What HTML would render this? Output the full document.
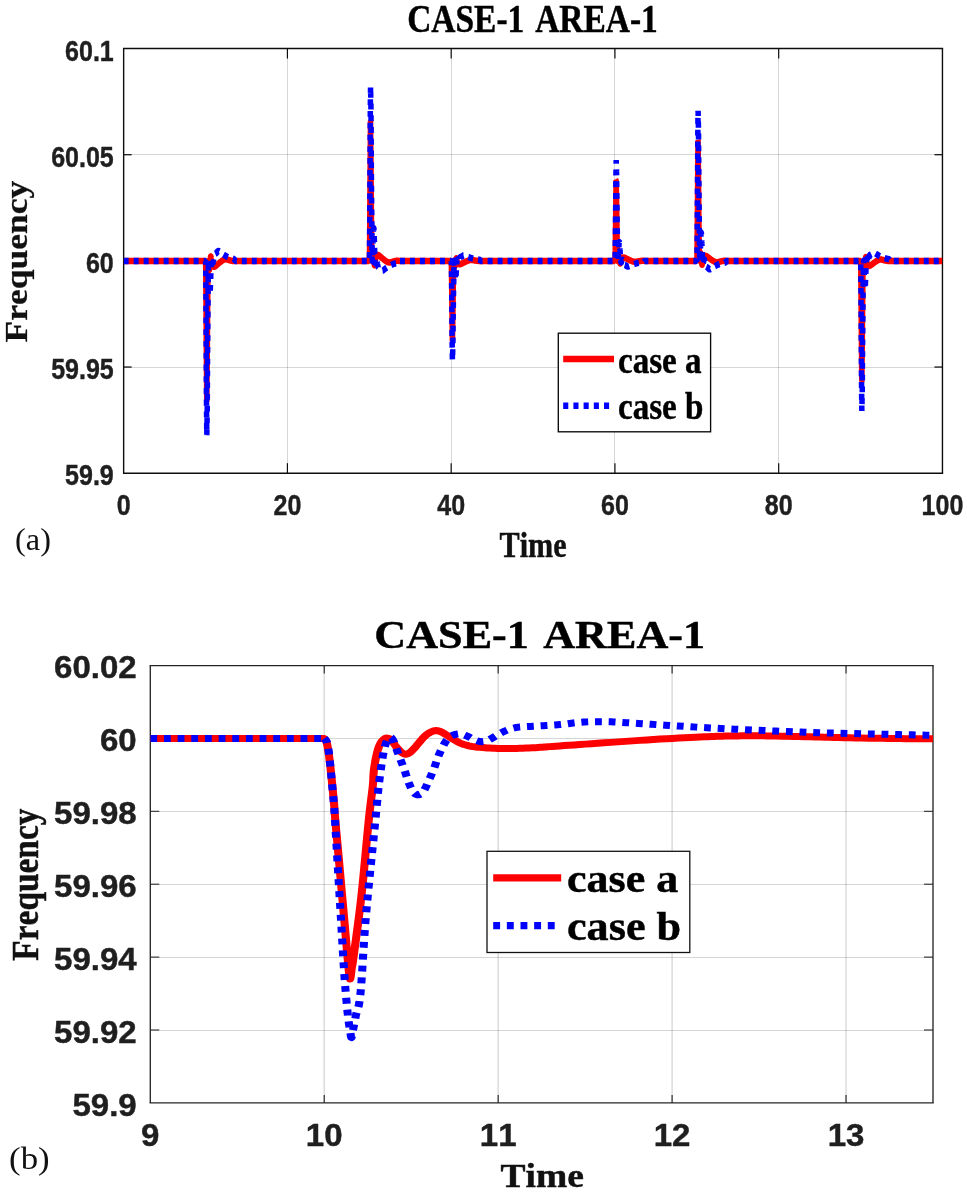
<!DOCTYPE html>
<html lang="en"><head><meta charset="utf-8"><title>CASE-1 AREA-1 frequency response</title>
<style>html,body{margin:0;padding:0;background:#fff}svg{display:block}text{font-kerning:none}</style></head>
<body><svg width="967" height="1194" viewBox="0 0 967 1194">
<rect width="967" height="1194" fill="#fff"/>
<line x1="287.50" y1="48.55" x2="287.50" y2="473.20" stroke="#262626" stroke-opacity="0.19" stroke-width="1"/>
<line x1="451.50" y1="48.55" x2="451.50" y2="473.20" stroke="#262626" stroke-opacity="0.19" stroke-width="1"/>
<line x1="614.50" y1="48.55" x2="614.50" y2="473.20" stroke="#262626" stroke-opacity="0.19" stroke-width="1"/>
<line x1="778.50" y1="48.55" x2="778.50" y2="473.20" stroke="#262626" stroke-opacity="0.19" stroke-width="1"/>
<line x1="123.65" y1="367.50" x2="942.45" y2="367.50" stroke="#262626" stroke-opacity="0.19" stroke-width="1"/>
<line x1="123.65" y1="260.50" x2="942.45" y2="260.50" stroke="#262626" stroke-opacity="0.19" stroke-width="1"/>
<line x1="123.65" y1="154.50" x2="942.45" y2="154.50" stroke="#262626" stroke-opacity="0.19" stroke-width="1"/>
<clipPath id="c1"><rect x="123.65" y="48.55" width="818.8000000000001" height="424.65"/></clipPath>
<line x1="287.41" y1="473.20" x2="287.41" y2="463.20" stroke="#0d0d0d" stroke-width="1.19"/>
<line x1="287.41" y1="48.55" x2="287.41" y2="58.55" stroke="#0d0d0d" stroke-width="1.19"/>
<line x1="451.17" y1="473.20" x2="451.17" y2="463.20" stroke="#0d0d0d" stroke-width="1.19"/>
<line x1="451.17" y1="48.55" x2="451.17" y2="58.55" stroke="#0d0d0d" stroke-width="1.19"/>
<line x1="614.93" y1="473.20" x2="614.93" y2="463.20" stroke="#0d0d0d" stroke-width="1.19"/>
<line x1="614.93" y1="48.55" x2="614.93" y2="58.55" stroke="#0d0d0d" stroke-width="1.19"/>
<line x1="778.69" y1="473.20" x2="778.69" y2="463.20" stroke="#0d0d0d" stroke-width="1.19"/>
<line x1="778.69" y1="48.55" x2="778.69" y2="58.55" stroke="#0d0d0d" stroke-width="1.19"/>
<line x1="123.65" y1="367.04" x2="131.65" y2="367.04" stroke="#0d0d0d" stroke-width="1.2325"/>
<line x1="942.45" y1="367.04" x2="934.45" y2="367.04" stroke="#0d0d0d" stroke-width="1.2325"/>
<line x1="123.65" y1="260.88" x2="131.65" y2="260.88" stroke="#0d0d0d" stroke-width="1.2325"/>
<line x1="942.45" y1="260.88" x2="934.45" y2="260.88" stroke="#0d0d0d" stroke-width="1.2325"/>
<line x1="123.65" y1="154.71" x2="131.65" y2="154.71" stroke="#0d0d0d" stroke-width="1.2325"/>
<line x1="942.45" y1="154.71" x2="934.45" y2="154.71" stroke="#0d0d0d" stroke-width="1.2325"/>
<line x1="122.95" y1="48.55" x2="943.15" y2="48.55" stroke="#0d0d0d" stroke-width="1.45"/>
<line x1="122.95" y1="473.20" x2="943.15" y2="473.20" stroke="#0d0d0d" stroke-width="1.45"/>
<line x1="123.65" y1="48.55" x2="123.65" y2="473.20" stroke="#0d0d0d" stroke-width="1.4"/>
<line x1="942.45" y1="48.55" x2="942.45" y2="473.20" stroke="#0d0d0d" stroke-width="1.4"/>
<g clip-path="url(#c1)">
<g transform="scale(0.85 1)" fill="none" stroke-linejoin="bevel">
<path d="M145.47 260.88 L146.43 260.88 L147.40 260.88 L148.36 260.88 L149.32 260.88 L150.29 260.88 L151.25 260.88 L152.21 260.88 L153.18 260.88 L154.14 260.88 L155.10 260.88 L156.07 260.88 L157.03 260.88 L157.99 260.88 L158.96 260.88 L159.92 260.88 L160.88 260.88 L161.85 260.88 L162.81 260.88 L163.77 260.88 L164.74 260.88 L165.70 260.88 L166.66 260.88 L167.63 260.88 L168.59 260.88 L169.55 260.88 L170.52 260.88 L171.48 260.88 L172.44 260.88 L173.41 260.88 L174.37 260.88 L175.33 260.88 L176.30 260.88 L177.26 260.88 L178.22 260.88 L179.19 260.88 L180.15 260.88 L181.11 260.88 L182.08 260.88 L183.04 260.88 L184.00 260.88 L184.97 260.88 L185.93 260.88 L186.89 260.88 L187.86 260.88 L188.82 260.88 L189.78 260.88 L190.75 260.88 L191.71 260.88 L192.67 260.88 L193.64 260.88 L194.60 260.88 L195.56 260.88 L196.53 260.88 L197.49 260.88 L198.45 260.88 L199.42 260.88 L200.38 260.88 L201.34 260.88 L202.30 260.88 L203.27 260.88 L204.23 260.88 L205.19 260.88 L206.16 260.88 L207.12 260.88 L208.08 260.88 L209.05 260.88 L210.01 260.88 L210.97 260.88 L211.94 260.88 L212.90 260.88 L213.86 260.88 L214.83 260.88 L215.79 260.88 L216.75 260.88 L217.72 260.88 L218.68 260.88 L219.64 260.88 L220.61 260.88 L221.57 260.88 L222.53 260.88 L223.50 260.88 L224.46 260.88 L225.42 260.88 L226.39 260.88 L227.35 260.88 L228.31 260.88 L229.28 260.88 L230.24 260.88 L231.20 260.88 L232.17 260.88 L233.13 260.88 L234.09 260.88 L235.06 260.88 L236.02 260.88 L236.98 260.88 L237.95 260.88 L238.91 260.88 L239.87 260.88 L240.84 260.88 L241.80 260.90 L241.81 261.01 L241.82 261.15 L241.84 261.32 L241.85 261.53 L241.87 261.78 L241.89 262.09 L241.91 262.46 L241.93 262.91 L241.94 263.43 L241.95 264.00 L241.97 264.62 L241.98 265.31 L241.99 266.06 L242.01 266.88 L242.02 267.77 L242.04 268.74 L242.05 269.75 L242.06 270.79 L242.08 271.88 L242.09 273.05 L242.11 274.32 L242.12 275.73 L242.14 277.30 L242.16 279.05 L242.18 281.10 L242.20 283.48 L242.23 286.08 L242.25 288.77 L242.28 291.47 L242.30 294.05 L242.32 296.41 L242.34 298.45 L242.35 300.00 L242.36 301.11 L242.37 301.96 L242.37 302.72 L242.38 303.56 L242.38 304.66 L242.40 306.20 L242.41 308.35 L242.44 311.14 L242.46 314.43 L242.50 318.11 L242.53 322.07 L242.57 326.21 L242.60 330.43 L242.64 334.60 L242.67 338.64 L242.71 342.69 L242.74 346.93 L242.76 349.22 L242.78 351.27 L242.82 355.61 L242.85 359.86 L242.89 363.95 L242.92 367.78 L242.95 371.26 L242.98 374.42 L243.00 377.35 L243.02 380.06 L243.04 382.58 L243.06 384.93 L243.08 387.11 L243.10 389.15 L243.12 391.07 L243.13 392.89 L243.15 394.62 L243.16 396.22 L243.17 397.66 L243.18 398.88 L243.20 399.87 L243.21 400.58 L243.22 400.97 L243.23 400.96 L243.25 400.54 L243.26 399.81 L243.27 398.86 L243.29 397.77 L243.30 396.63 L243.31 395.53 L243.33 394.56 L243.34 393.85 L243.35 393.36 L243.35 392.96 L243.36 392.49 L243.37 391.80 L243.39 390.75 L243.41 389.20 L243.44 386.99 L243.47 384.10 L243.52 380.64 L243.57 376.73 L243.63 372.43 L243.68 367.84 L243.73 364.30 L243.74 363.04 L243.80 358.13 L243.85 353.20 L243.91 347.95 L243.96 342.18 L244.02 336.09 L244.07 329.90 L244.13 323.82 L244.18 318.06 L244.23 312.83 L244.27 308.35 L244.31 304.60 L244.34 301.39 L244.37 298.63 L244.40 296.23 L244.43 294.10 L244.45 292.17 L244.47 290.35 L244.49 288.54 L244.50 286.88 L244.51 285.49 L244.52 284.31 L244.52 283.27 L244.53 282.30 L244.53 281.35 L244.54 280.35 L244.55 279.22 L244.57 277.99 L244.59 276.69 L244.61 275.37 L244.63 274.04 L244.65 272.75 L244.68 271.51 L244.69 270.81 L244.70 270.36 L244.72 269.32 L244.75 268.39 L244.77 267.54 L244.79 266.76 L244.82 266.04 L244.84 265.38 L244.87 264.77 L244.89 264.20 L244.92 263.67 L244.94 263.18 L244.97 262.75 L245.00 262.37 L245.03 262.03 L245.06 261.73 L245.09 261.47 L245.11 261.25 L245.14 261.05 L245.16 260.89 L245.18 260.77 L245.20 260.69 L245.22 260.65 L245.24 260.63 L245.26 260.64 L245.28 260.66 L245.30 260.70 L245.33 260.75 L245.35 260.80 L245.38 260.87 L245.41 260.97 L245.44 261.09 L245.47 261.26 L245.50 261.48 L245.53 261.75 L245.56 262.10 L245.59 262.53 L245.62 263.02 L245.65 263.54 L245.65 263.60 L245.68 264.08 L245.71 264.61 L245.74 265.10 L245.77 265.54 L245.80 265.93 L245.83 266.30 L245.86 266.66 L245.89 267.00 L245.92 267.32 L245.95 267.62 L245.97 267.90 L246.00 268.16 L246.02 268.39 L246.04 268.60 L246.06 268.79 L246.08 268.96 L246.10 269.11 L246.12 269.25 L246.14 269.38 L246.16 269.50 L246.18 269.61 L246.20 269.72 L246.22 269.82 L246.24 269.90 L246.26 269.97 L246.28 270.01 L246.31 270.03 L246.33 270.02 L246.35 269.98 L246.38 269.92 L246.41 269.84 L246.43 269.74 L246.46 269.61 L246.49 269.45 L246.52 269.26 L246.55 269.03 L246.58 268.76 L246.62 268.45 L246.62 268.44 L246.65 268.10 L246.69 267.73 L246.72 267.34 L246.76 266.93 L246.79 266.52 L246.83 266.12 L246.86 265.71 L246.90 265.28 L246.93 264.84 L246.97 264.39 L247.00 263.94 L247.03 263.49 L247.07 263.05 L247.10 262.62 L247.14 262.20 L247.17 261.78 L247.21 261.36 L247.24 260.94 L247.27 260.53 L247.31 260.14 L247.34 259.77 L247.38 259.42 L247.42 259.09 L247.46 258.77 L247.49 258.46 L247.53 258.17 L247.57 257.90 L247.58 257.84 L247.61 257.65 L247.65 257.41 L247.69 257.21 L247.72 257.02 L247.76 256.84 L247.80 256.69 L247.83 256.56 L247.87 256.45 L247.91 256.36 L247.94 256.30 L247.98 256.27 L248.02 256.27 L248.05 256.31 L248.09 256.36 L248.12 256.45 L248.16 256.55 L248.19 256.68 L248.23 256.82 L248.27 256.97 L248.30 257.13 L248.33 257.30 L248.36 257.48 L248.40 257.68 L248.43 257.91 L248.47 258.17 L248.52 258.48 L248.54 258.65 L248.57 258.84 L248.64 259.27 L248.72 259.79 L248.80 260.37 L248.89 260.97 L248.99 261.57 L249.08 262.15 L249.16 262.66 L249.24 263.09 L249.30 263.43 L249.37 263.72 L249.43 263.96 L249.48 264.17 L249.51 264.25 L249.54 264.35 L249.59 264.51 L249.65 264.67 L249.71 264.84 L249.76 265.00 L249.82 265.14 L249.87 265.27 L249.92 265.39 L249.98 265.51 L250.04 265.61 L250.12 265.72 L250.21 265.83 L250.31 265.94 L250.43 266.05 L250.47 266.08 L250.56 266.16 L250.70 266.26 L250.84 266.36 L250.98 266.44 L251.12 266.52 L251.26 266.58 L251.39 266.63 L251.43 266.65 L251.51 266.67 L251.64 266.70 L251.76 266.73 L251.89 266.74 L252.02 266.74 L252.15 266.72 L252.30 266.70 L252.40 266.68 L252.45 266.66 L252.62 266.61 L252.80 266.54 L252.97 266.46 L253.15 266.38 L253.32 266.29 L253.36 266.27 L253.49 266.20 L253.64 266.12 L253.77 266.04 L253.88 265.96 L253.97 265.89 L254.07 265.81 L254.17 265.72 L254.29 265.62 L254.32 265.59 L254.44 265.50 L254.62 265.36 L254.84 265.20 L255.09 265.02 L255.29 264.87 L255.36 264.82 L255.65 264.61 L255.95 264.38 L256.25 264.17 L256.27 264.15 L256.60 263.91 L256.94 263.67 L257.21 263.47 L257.29 263.41 L257.67 263.14 L258.07 262.85 L258.18 262.77 L258.47 262.55 L258.88 262.26 L259.14 262.07 L259.28 261.97 L259.67 261.70 L260.04 261.46 L260.10 261.42 L260.39 261.23 L260.74 261.02 L261.07 260.83 L261.09 260.81 L261.43 260.62 L261.75 260.45 L262.03 260.30 L262.06 260.28 L262.35 260.13 L262.61 260.00 L262.84 259.89 L262.99 259.82 L263.05 259.80 L263.23 259.72 L263.39 259.66 L263.55 259.61 L263.70 259.56 L263.86 259.52 L263.96 259.49 L264.02 259.48 L264.20 259.44 L264.38 259.40 L264.55 259.38 L264.73 259.35 L264.91 259.34 L264.92 259.33 L265.07 259.32 L265.23 259.31 L265.38 259.30 L265.51 259.30 L265.61 259.29 L265.70 259.29 L265.78 259.29 L265.87 259.29 L265.88 259.30 L265.99 259.31 L266.13 259.33 L266.31 259.36 L266.54 259.40 L266.81 259.46 L266.85 259.46 L267.11 259.52 L267.43 259.59 L267.76 259.66 L267.81 259.68 L268.08 259.74 L268.40 259.81 L268.70 259.88 L268.77 259.90 L268.98 259.96 L269.25 260.03 L269.51 260.10 L269.74 260.17 L269.77 260.18 L270.04 260.25 L270.31 260.33 L270.59 260.40 L270.70 260.42 L270.90 260.47 L271.22 260.53 L271.57 260.60 L271.66 260.62 L271.94 260.67 L272.31 260.73 L272.63 260.78 L272.69 260.79 L273.04 260.84 L273.38 260.89 L273.59 260.92 L273.69 260.93 L273.97 260.97 L274.26 260.99 L274.52 261.01 L274.55 261.01 L274.78 261.02 L275.01 261.03 L275.21 261.04 L275.38 261.04 L275.52 261.05 L276.48 260.88 L277.44 260.88 L278.41 260.88 L279.37 260.88 L280.33 260.88 L281.30 260.88 L282.26 260.88 L283.22 260.88 L284.18 260.88 L285.15 260.88 L286.11 260.88 L287.07 260.88 L288.04 260.88 L289.00 260.88 L289.96 260.88 L290.93 260.88 L291.89 260.88 L292.85 260.88 L293.82 260.88 L294.78 260.88 L295.74 260.88 L296.71 260.88 L297.67 260.88 L298.63 260.88 L299.60 260.88 L300.56 260.88 L301.52 260.88 L302.49 260.88 L303.45 260.88 L304.41 260.88 L305.38 260.88 L306.34 260.88 L307.30 260.88 L308.27 260.88 L309.23 260.88 L310.19 260.88 L311.16 260.88 L312.12 260.88 L313.08 260.88 L314.05 260.88 L315.01 260.88 L315.97 260.88 L316.94 260.88 L317.90 260.88 L318.86 260.88 L319.83 260.88 L320.79 260.88 L321.75 260.88 L322.72 260.88 L323.68 260.88 L324.64 260.88 L325.61 260.88 L326.57 260.88 L327.53 260.88 L328.50 260.88 L329.46 260.88 L330.42 260.88 L331.39 260.88 L332.35 260.88 L333.31 260.88 L334.28 260.88 L335.24 260.88 L336.20 260.88 L337.17 260.88 L338.13 260.88 L339.09 260.88 L340.06 260.88 L341.02 260.88 L341.98 260.88 L342.95 260.88 L343.91 260.88 L344.87 260.88 L345.84 260.88 L346.80 260.88 L347.76 260.88 L348.73 260.88 L349.69 260.88 L350.65 260.88 L351.62 260.88 L352.58 260.88 L353.54 260.88 L354.51 260.88 L355.47 260.88 L356.43 260.88 L357.40 260.88 L358.36 260.88 L359.32 260.88 L360.29 260.88 L361.25 260.88 L362.21 260.88 L363.18 260.88 L364.14 260.88 L365.10 260.88 L366.06 260.88 L367.03 260.88 L367.99 260.88 L368.95 260.88 L369.92 260.88 L370.88 260.88 L371.84 260.88 L372.81 260.88 L373.77 260.88 L374.73 260.88 L375.70 260.88 L376.66 260.88 L377.62 260.88 L378.59 260.88 L379.55 260.88 L380.51 260.88 L381.48 260.88 L382.44 260.88 L383.40 260.88 L384.37 260.88 L385.33 260.88 L386.29 260.88 L387.26 260.88 L388.22 260.88 L389.18 260.88 L390.15 260.88 L391.11 260.88 L392.07 260.88 L393.04 260.88 L394.00 260.88 L394.96 260.88 L395.93 260.88 L396.89 260.88 L397.85 260.88 L398.82 260.88 L399.78 260.88 L400.74 260.88 L401.71 260.88 L402.67 260.88 L403.63 260.88 L404.60 260.88 L405.56 260.88 L406.52 260.88 L407.49 260.88 L408.45 260.88 L409.41 260.88 L410.38 260.88 L411.34 260.88 L412.30 260.88 L413.27 260.88 L414.23 260.88 L415.19 260.88 L416.16 260.88 L417.12 260.88 L418.08 260.88 L419.05 260.88 L420.01 260.88 L420.97 260.88 L421.94 260.88 L422.90 260.88 L423.86 260.88 L424.83 260.88 L425.79 260.88 L426.75 260.88 L427.72 260.88 L428.68 260.88 L429.64 260.88 L430.61 260.88 L431.57 260.88 L432.53 260.88 L433.50 260.88 L434.46 260.85 L434.47 260.74 L434.48 260.60 L434.50 260.43 L434.51 260.22 L434.53 259.97 L434.55 259.66 L434.57 259.29 L434.58 258.84 L434.60 258.32 L434.61 257.75 L434.63 257.13 L434.64 256.44 L434.65 255.69 L434.67 254.87 L434.68 253.98 L434.70 253.01 L434.71 252.00 L434.72 250.96 L434.74 249.87 L434.75 248.70 L434.77 247.43 L434.78 246.02 L434.80 244.45 L434.82 242.70 L434.84 240.65 L434.86 238.27 L434.89 235.67 L434.91 232.98 L434.94 230.28 L434.96 227.70 L434.98 225.34 L435.00 223.30 L435.01 221.75 L435.02 220.64 L435.03 219.79 L435.03 219.03 L435.04 218.19 L435.04 217.09 L435.05 215.55 L435.07 213.40 L435.10 210.61 L435.12 207.32 L435.15 203.64 L435.19 199.68 L435.22 195.54 L435.26 191.32 L435.30 187.15 L435.33 183.11 L435.37 179.06 L435.40 174.82 L435.42 172.53 L435.44 170.48 L435.48 166.14 L435.51 161.89 L435.55 157.80 L435.58 153.97 L435.61 150.49 L435.64 147.33 L435.66 144.40 L435.68 141.69 L435.70 139.17 L435.72 136.82 L435.74 134.64 L435.76 132.60 L435.78 130.68 L435.79 128.86 L435.81 127.13 L435.82 125.53 L435.83 124.09 L435.84 122.87 L435.86 121.88 L435.87 121.17 L435.88 120.78 L435.89 120.79 L435.91 121.21 L435.92 121.94 L435.93 122.89 L435.95 123.98 L435.96 125.12 L435.97 126.22 L435.99 127.19 L436.00 127.90 L436.01 128.39 L436.01 128.79 L436.02 129.26 L436.03 129.95 L436.05 131.00 L436.07 132.55 L436.10 134.76 L436.13 137.65 L436.18 141.11 L436.23 145.02 L436.28 149.32 L436.34 153.91 L436.39 157.45 L436.40 158.71 L436.46 163.62 L436.51 168.55 L436.56 173.80 L436.62 179.57 L436.68 185.66 L436.73 191.85 L436.79 197.93 L436.84 203.69 L436.88 208.92 L436.93 213.40 L436.97 217.15 L437.00 220.36 L437.03 223.12 L437.06 225.52 L437.09 227.65 L437.11 229.58 L437.13 231.40 L437.15 233.21 L437.16 234.87 L437.17 236.26 L437.18 237.44 L437.18 238.48 L437.19 239.45 L437.19 240.40 L437.20 241.40 L437.21 242.53 L437.23 243.76 L437.24 245.06 L437.26 246.38 L437.29 247.71 L437.31 249.00 L437.33 250.24 L437.35 250.94 L437.36 251.39 L437.38 252.43 L437.40 253.36 L437.43 254.21 L437.45 254.99 L437.48 255.71 L437.50 256.37 L437.52 256.98 L437.55 257.55 L437.58 258.08 L437.60 258.57 L437.63 259.00 L437.66 259.38 L437.69 259.72 L437.72 260.02 L437.74 260.28 L437.77 260.50 L437.80 260.70 L437.82 260.86 L437.84 260.98 L437.86 261.06 L437.88 261.10 L437.90 261.12 L437.92 261.11 L437.94 261.09 L437.96 261.05 L437.99 261.00 L438.01 260.95 L438.04 260.88 L438.07 260.78 L438.10 260.66 L438.13 260.49 L438.15 260.27 L438.18 260.00 L438.21 259.65 L438.25 259.22 L438.28 258.73 L438.31 258.21 L438.31 258.15 L438.34 257.67 L438.37 257.14 L438.40 256.65 L438.43 256.21 L438.46 255.82 L438.49 255.45 L438.52 255.09 L438.55 254.75 L438.58 254.43 L438.60 254.13 L438.63 253.85 L438.66 253.59 L438.68 253.36 L438.70 253.15 L438.72 252.96 L438.74 252.79 L438.76 252.64 L438.78 252.50 L438.80 252.37 L438.82 252.25 L438.84 252.14 L438.86 252.03 L438.88 251.93 L438.90 251.85 L438.92 251.78 L438.94 251.74 L438.96 251.72 L438.99 251.73 L439.01 251.77 L439.04 251.83 L439.06 251.91 L439.09 252.01 L439.12 252.14 L439.15 252.30 L439.18 252.49 L439.21 252.72 L439.24 252.99 L439.27 253.30 L439.28 253.31 L439.31 253.65 L439.34 254.02 L439.38 254.41 L439.42 254.82 L439.45 255.23 L439.49 255.63 L439.52 256.04 L439.55 256.47 L439.59 256.91 L439.62 257.36 L439.66 257.81 L439.69 258.26 L439.73 258.70 L439.76 259.13 L439.80 259.55 L439.83 259.97 L439.87 260.39 L439.90 260.81 L439.93 261.22 L439.97 261.61 L440.00 261.98 L440.04 262.33 L440.08 262.66 L440.11 262.98 L440.15 263.29 L440.19 263.58 L440.23 263.85 L440.24 263.91 L440.27 264.10 L440.31 264.34 L440.34 264.54 L440.38 264.73 L440.42 264.91 L440.46 265.06 L440.49 265.19 L440.53 265.30 L440.56 265.39 L440.60 265.45 L440.64 265.48 L440.67 265.48 L440.71 265.44 L440.75 265.39 L440.78 265.30 L440.82 265.20 L440.85 265.07 L440.89 264.93 L440.93 264.78 L440.96 264.62 L440.99 264.45 L441.02 264.27 L441.05 264.07 L441.09 263.84 L441.13 263.58 L441.17 263.27 L441.20 263.10 L441.23 262.91 L441.30 262.48 L441.38 261.96 L441.46 261.38 L441.55 260.78 L441.64 260.18 L441.73 259.60 L441.82 259.09 L441.89 258.66 L441.96 258.32 L442.03 258.03 L442.08 257.79 L442.14 257.58 L442.17 257.50 L442.20 257.40 L442.25 257.24 L442.31 257.08 L442.37 256.91 L442.42 256.75 L442.48 256.61 L442.53 256.48 L442.58 256.36 L442.64 256.24 L442.70 256.14 L442.78 256.03 L442.86 255.92 L442.97 255.81 L443.09 255.70 L443.13 255.67 L443.22 255.59 L443.36 255.49 L443.50 255.39 L443.64 255.31 L443.78 255.23 L443.92 255.17 L444.05 255.12 L444.09 255.10 L444.17 255.08 L444.29 255.05 L444.42 255.02 L444.55 255.01 L444.68 255.01 L444.81 255.03 L444.96 255.05 L445.06 255.07 L445.11 255.09 L445.28 255.14 L445.45 255.21 L445.63 255.29 L445.81 255.37 L445.98 255.46 L446.02 255.48 L446.15 255.55 L446.30 255.63 L446.43 255.71 L446.54 255.79 L446.63 255.86 L446.73 255.94 L446.83 256.03 L446.95 256.13 L446.98 256.16 L447.09 256.25 L447.28 256.39 L447.50 256.55 L447.75 256.73 L447.94 256.88 L448.02 256.93 L448.31 257.14 L448.61 257.37 L448.91 257.58 L448.93 257.60 L449.26 257.84 L449.60 258.08 L449.87 258.28 L449.95 258.34 L450.33 258.61 L450.73 258.90 L450.83 258.98 L451.13 259.20 L451.54 259.49 L451.80 259.68 L451.94 259.78 L452.33 260.05 L452.69 260.29 L452.76 260.33 L453.05 260.52 L453.40 260.73 L453.72 260.92 L453.75 260.94 L454.09 261.13 L454.41 261.30 L454.69 261.45 L454.72 261.47 L455.01 261.62 L455.27 261.75 L455.50 261.86 L455.65 261.93 L455.71 261.95 L455.89 262.03 L456.05 262.09 L456.21 262.14 L456.36 262.19 L456.52 262.23 L456.61 262.26 L456.68 262.27 L456.86 262.31 L457.04 262.35 L457.21 262.37 L457.39 262.40 L457.56 262.41 L457.58 262.42 L457.73 262.43 L457.89 262.44 L458.04 262.45 L458.17 262.45 L458.27 262.46 L458.35 262.46 L458.44 262.46 L458.53 262.46 L458.54 262.45 L458.64 262.44 L458.79 262.42 L458.97 262.39 L459.20 262.35 L459.47 262.29 L459.50 262.29 L459.77 262.23 L460.09 262.16 L460.42 262.09 L460.47 262.07 L460.74 262.01 L461.06 261.94 L461.36 261.87 L461.43 261.85 L461.64 261.79 L461.91 261.72 L462.17 261.65 L462.39 261.58 L462.43 261.57 L462.70 261.50 L462.97 261.42 L463.25 261.35 L463.36 261.33 L463.56 261.28 L463.88 261.22 L464.23 261.15 L464.32 261.13 L464.60 261.08 L464.97 261.02 L465.28 260.97 L465.34 260.96 L465.70 260.91 L466.04 260.86 L466.25 260.83 L466.35 260.82 L466.63 260.78 L466.91 260.76 L467.18 260.74 L467.21 260.74 L467.43 260.73 L467.66 260.72 L467.87 260.71 L468.04 260.71 L468.17 260.70 L469.14 260.88 L470.10 260.88 L471.06 260.88 L472.03 260.88 L472.99 260.88 L473.95 260.88 L474.92 260.88 L475.88 260.88 L476.84 260.88 L477.81 260.88 L478.77 260.88 L479.73 260.88 L480.70 260.88 L481.66 260.88 L482.62 260.88 L483.59 260.88 L484.55 260.88 L485.51 260.88 L486.48 260.88 L487.44 260.88 L488.40 260.88 L489.37 260.88 L490.33 260.88 L491.29 260.88 L492.26 260.88 L493.22 260.88 L494.18 260.88 L495.15 260.88 L496.11 260.88 L497.07 260.88 L498.04 260.88 L499.00 260.88 L499.96 260.88 L500.93 260.88 L501.89 260.88 L502.85 260.88 L503.82 260.88 L504.78 260.88 L505.74 260.88 L506.71 260.88 L507.67 260.88 L508.63 260.88 L509.60 260.88 L510.56 260.88 L511.52 260.88 L512.49 260.88 L513.45 260.88 L514.41 260.88 L515.38 260.88 L516.34 260.88 L517.30 260.88 L518.27 260.88 L519.23 260.88 L520.19 260.88 L521.16 260.88 L522.12 260.88 L523.08 260.88 L524.05 260.88 L525.01 260.88 L525.97 260.88 L526.94 260.88 L527.90 260.88 L528.86 260.88 L529.82 260.88 L530.79 260.89 L530.80 260.95 L530.81 261.03 L530.83 261.13 L530.84 261.25 L530.86 261.39 L530.88 261.57 L530.90 261.78 L530.91 262.04 L530.93 262.33 L530.94 262.66 L530.96 263.01 L530.97 263.40 L530.98 263.83 L531.00 264.30 L531.01 264.81 L531.02 265.36 L531.04 265.93 L531.05 266.53 L531.07 267.15 L531.08 267.81 L531.10 268.54 L531.11 269.34 L531.13 270.23 L531.15 271.23 L531.17 272.41 L531.19 273.76 L531.22 275.24 L531.24 276.78 L531.27 278.31 L531.29 279.79 L531.31 281.13 L531.33 282.29 L531.34 283.18 L531.35 283.81 L531.36 284.29 L531.36 284.73 L531.37 285.21 L531.37 285.83 L531.38 286.71 L531.40 287.94 L531.42 289.53 L531.45 291.40 L531.48 293.50 L531.52 295.76 L531.55 298.12 L531.59 300.52 L531.63 302.90 L531.66 305.20 L531.70 307.51 L531.73 309.93 L531.75 311.23 L531.77 312.40 L531.81 314.87 L531.84 317.30 L531.88 319.63 L531.91 321.81 L531.94 323.79 L531.96 325.59 L531.99 327.26 L532.01 328.81 L532.03 330.25 L532.05 331.58 L532.07 332.83 L532.09 333.99 L532.10 335.08 L532.12 336.12 L532.14 337.11 L532.15 338.02 L532.16 338.84 L532.17 339.54 L532.18 340.10 L532.20 340.51 L532.21 340.73 L532.22 340.72 L532.24 340.48 L532.25 340.07 L532.26 339.52 L532.28 338.90 L532.29 338.25 L532.30 337.63 L532.31 337.08 L532.33 336.67 L532.34 336.39 L532.34 336.16 L532.35 335.89 L532.36 335.50 L532.38 334.90 L532.40 334.02 L532.43 332.76 L532.46 331.11 L532.51 329.14 L532.56 326.91 L532.61 324.46 L532.67 321.84 L532.71 319.83 L532.73 319.11 L532.79 316.31 L532.84 313.50 L532.89 310.51 L532.95 307.22 L533.01 303.75 L533.06 300.22 L533.11 296.75 L533.17 293.47 L533.21 290.49 L533.26 287.94 L533.29 285.80 L533.33 283.97 L533.36 282.39 L533.39 281.03 L533.42 279.81 L533.44 278.71 L533.46 277.67 L533.48 276.65 L533.49 275.70 L533.50 274.91 L533.51 274.23 L533.51 273.64 L533.52 273.09 L533.52 272.55 L533.53 271.97 L533.54 271.33 L533.55 270.63 L533.57 269.89 L533.59 269.14 L533.62 268.38 L533.64 267.64 L533.66 266.94 L533.68 266.54 L533.69 266.28 L533.71 265.69 L533.73 265.16 L533.76 264.67 L533.78 264.23 L533.80 263.82 L533.83 263.44 L533.85 263.10 L533.88 262.77 L533.90 262.47 L533.93 262.19 L533.96 261.94 L533.99 261.73 L534.02 261.53 L534.05 261.36 L534.07 261.22 L534.10 261.09 L534.13 260.97 L534.15 260.88 L534.17 260.82 L534.19 260.77 L534.21 260.74 L534.23 260.73 L534.25 260.74 L534.27 260.75 L534.29 260.78 L534.32 260.80 L534.34 260.83 L534.37 260.87 L534.40 260.93 L534.43 261.00 L534.46 261.10 L534.48 261.22 L534.51 261.37 L534.54 261.57 L534.57 261.82 L534.61 262.10 L534.64 262.40 L534.64 262.43 L534.67 262.70 L534.70 263.00 L534.73 263.28 L534.76 263.53 L534.79 263.75 L534.82 263.97 L534.85 264.17 L534.88 264.37 L534.91 264.55 L534.93 264.72 L534.96 264.88 L534.98 265.03 L535.01 265.16 L535.03 265.28 L535.05 265.39 L535.07 265.48 L535.09 265.57 L535.11 265.65 L535.13 265.72 L535.15 265.79 L535.17 265.85 L535.19 265.92 L535.21 265.97 L535.23 266.02 L535.25 266.06 L535.27 266.08 L535.29 266.10 L535.32 266.09 L535.34 266.07 L535.37 266.03 L535.39 265.99 L535.42 265.93 L535.45 265.85 L535.48 265.76 L535.51 265.65 L535.54 265.52 L535.57 265.37 L535.60 265.19 L535.60 265.19 L535.64 265.00 L535.67 264.78 L535.71 264.56 L535.74 264.33 L535.78 264.09 L535.82 263.86 L535.85 263.63 L535.88 263.38 L535.92 263.13 L535.95 262.88 L535.99 262.62 L536.02 262.37 L536.06 262.11 L536.09 261.87 L536.13 261.63 L536.16 261.39 L536.19 261.15 L536.23 260.91 L536.26 260.68 L536.30 260.46 L536.33 260.25 L536.37 260.04 L536.41 259.86 L536.44 259.67 L536.48 259.50 L536.52 259.33 L536.56 259.18 L536.57 259.14 L536.60 259.03 L536.64 258.90 L536.67 258.78 L536.71 258.68 L536.75 258.58 L536.78 258.49 L536.82 258.41 L536.86 258.35 L536.89 258.30 L536.93 258.27 L536.97 258.25 L537.00 258.25 L537.04 258.27 L537.07 258.30 L537.11 258.35 L537.15 258.41 L537.18 258.48 L537.22 258.56 L537.26 258.65 L537.29 258.74 L537.32 258.84 L537.35 258.94 L537.38 259.06 L537.42 259.19 L537.46 259.34 L537.50 259.51 L537.53 259.61 L537.56 259.71 L537.63 259.96 L537.71 260.26 L537.79 260.58 L537.88 260.93 L537.97 261.27 L538.06 261.60 L538.15 261.89 L538.22 262.14 L538.29 262.33 L538.35 262.50 L538.41 262.63 L538.47 262.75 L538.49 262.80 L538.53 262.85 L538.58 262.95 L538.64 263.04 L538.70 263.13 L538.75 263.22 L538.80 263.31 L538.86 263.38 L538.91 263.45 L538.96 263.51 L539.03 263.58 L539.10 263.64 L539.19 263.70 L539.30 263.76 L539.42 263.82 L539.46 263.84 L539.55 263.88 L539.69 263.94 L539.83 264.00 L539.97 264.05 L540.11 264.09 L540.25 264.13 L540.37 264.16 L540.42 264.17 L540.50 264.18 L540.62 264.20 L540.75 264.21 L540.88 264.22 L541.01 264.22 L541.14 264.21 L541.29 264.20 L541.38 264.18 L541.44 264.17 L541.61 264.14 L541.78 264.10 L541.96 264.06 L542.14 264.01 L542.31 263.96 L542.35 263.95 L542.47 263.91 L542.63 263.86 L542.76 263.82 L542.87 263.77 L542.96 263.73 L543.06 263.69 L543.16 263.64 L543.28 263.58 L543.31 263.56 L543.42 263.51 L543.61 263.43 L543.83 263.34 L544.08 263.24 L544.27 263.15 L544.35 263.12 L544.64 263.00 L544.94 262.88 L545.24 262.75 L545.26 262.74 L545.59 262.61 L545.93 262.47 L546.20 262.36 L546.28 262.32 L546.66 262.16 L547.06 262.00 L547.16 261.95 L547.46 261.83 L547.87 261.66 L548.13 261.56 L548.27 261.50 L548.66 261.35 L549.02 261.21 L549.09 261.18 L549.38 261.08 L549.73 260.96 L550.05 260.85 L550.08 260.84 L550.42 260.73 L550.74 260.63 L551.02 260.55 L551.05 260.54 L551.34 260.45 L551.60 260.38 L551.83 260.31 L551.98 260.27 L552.04 260.26 L552.22 260.22 L552.38 260.18 L552.54 260.15 L552.69 260.13 L552.85 260.10 L552.94 260.09 L553.01 260.08 L553.19 260.06 L553.36 260.04 L553.54 260.02 L553.72 260.01 L553.89 260.00 L553.91 260.00 L554.06 259.99 L554.22 259.98 L554.37 259.98 L554.50 259.97 L554.60 259.97 L554.68 259.97 L554.77 259.97 L554.86 259.97 L554.87 259.97 L554.97 259.98 L555.12 259.99 L555.30 260.01 L555.53 260.04 L555.80 260.07 L555.83 260.07 L556.10 260.10 L556.42 260.14 L556.74 260.18 L556.80 260.19 L557.07 260.23 L557.39 260.27 L557.69 260.31 L557.76 260.32 L557.97 260.35 L558.24 260.39 L558.50 260.44 L558.72 260.47 L558.76 260.48 L559.03 260.52 L559.30 260.56 L559.58 260.60 L559.69 260.62 L559.88 260.64 L560.21 260.68 L560.56 260.72 L560.65 260.73 L560.93 260.76 L561.30 260.79 L561.61 260.82 L561.67 260.83 L562.03 260.86 L562.37 260.88 L562.58 260.90 L562.68 260.91 L562.96 260.93 L563.24 260.94 L563.51 260.95 L563.54 260.95 L563.76 260.96 L563.99 260.96 L564.20 260.97 L564.37 260.97 L564.50 260.97 L565.47 260.88 L566.43 260.88 L567.39 260.88 L568.36 260.88 L569.32 260.88 L570.28 260.88 L571.25 260.88 L572.21 260.88 L573.17 260.88 L574.14 260.88 L575.10 260.88 L576.06 260.88 L577.03 260.88 L577.99 260.88 L578.95 260.88 L579.92 260.88 L580.88 260.88 L581.84 260.88 L582.81 260.88 L583.77 260.88 L584.73 260.88 L585.70 260.88 L586.66 260.88 L587.62 260.88 L588.59 260.88 L589.55 260.88 L590.51 260.88 L591.48 260.88 L592.44 260.88 L593.40 260.88 L594.37 260.88 L595.33 260.88 L596.29 260.88 L597.26 260.88 L598.22 260.88 L599.18 260.88 L600.15 260.88 L601.11 260.88 L602.07 260.88 L603.04 260.88 L604.00 260.88 L604.96 260.88 L605.93 260.88 L606.89 260.88 L607.85 260.88 L608.82 260.88 L609.78 260.88 L610.74 260.88 L611.70 260.88 L612.67 260.88 L613.63 260.88 L614.59 260.88 L615.56 260.88 L616.52 260.88 L617.48 260.88 L618.45 260.88 L619.41 260.88 L620.37 260.88 L621.34 260.88 L622.30 260.88 L623.26 260.88 L624.23 260.88 L625.19 260.88 L626.15 260.88 L627.12 260.88 L628.08 260.88 L629.04 260.88 L630.01 260.88 L630.97 260.88 L631.93 260.88 L632.90 260.88 L633.86 260.88 L634.82 260.88 L635.79 260.88 L636.75 260.88 L637.71 260.88 L638.68 260.88 L639.64 260.88 L640.60 260.88 L641.57 260.88 L642.53 260.88 L643.49 260.88 L644.46 260.88 L645.42 260.88 L646.38 260.88 L647.35 260.88 L648.31 260.88 L649.27 260.88 L650.24 260.88 L651.20 260.88 L652.16 260.88 L653.13 260.88 L654.09 260.88 L655.05 260.88 L656.02 260.88 L656.98 260.88 L657.94 260.88 L658.91 260.88 L659.87 260.88 L660.83 260.88 L661.80 260.88 L662.76 260.88 L663.72 260.88 L664.69 260.88 L665.65 260.88 L666.61 260.88 L667.58 260.88 L668.54 260.88 L669.50 260.88 L670.47 260.88 L671.43 260.88 L672.39 260.88 L673.36 260.88 L674.32 260.88 L675.28 260.88 L676.25 260.88 L677.21 260.88 L678.17 260.88 L679.14 260.88 L680.10 260.88 L681.06 260.88 L682.03 260.88 L682.99 260.88 L683.95 260.88 L684.92 260.88 L685.88 260.88 L686.84 260.88 L687.81 260.88 L688.77 260.88 L689.73 260.88 L690.70 260.88 L691.66 260.88 L692.62 260.88 L693.58 260.88 L694.55 260.88 L695.51 260.88 L696.47 260.88 L697.44 260.88 L698.40 260.88 L699.36 260.88 L700.33 260.88 L701.29 260.88 L702.25 260.88 L703.22 260.88 L704.18 260.88 L705.14 260.88 L706.11 260.88 L707.07 260.88 L708.03 260.88 L709.00 260.88 L709.96 260.88 L710.92 260.88 L711.89 260.88 L712.85 260.88 L713.81 260.88 L714.78 260.88 L715.74 260.88 L716.70 260.88 L717.67 260.88 L718.63 260.88 L719.59 260.88 L720.56 260.88 L721.52 260.88 L722.48 260.88 L723.45 260.86 L723.46 260.80 L723.47 260.72 L723.48 260.62 L723.50 260.50 L723.52 260.35 L723.54 260.18 L723.56 259.96 L723.57 259.70 L723.59 259.41 L723.60 259.08 L723.61 258.72 L723.63 258.33 L723.64 257.89 L723.66 257.42 L723.67 256.91 L723.68 256.35 L723.70 255.77 L723.71 255.17 L723.73 254.55 L723.74 253.88 L723.75 253.14 L723.77 252.33 L723.79 251.43 L723.81 250.42 L723.83 249.24 L723.85 247.88 L723.87 246.38 L723.90 244.83 L723.92 243.28 L723.95 241.80 L723.97 240.44 L723.99 239.27 L724.00 238.38 L724.01 237.74 L724.01 237.25 L724.02 236.82 L724.02 236.33 L724.03 235.70 L724.04 234.81 L724.06 233.58 L724.08 231.97 L724.11 230.08 L724.14 227.96 L724.18 225.69 L724.21 223.30 L724.25 220.88 L724.29 218.48 L724.32 216.16 L724.35 213.83 L724.39 211.39 L724.41 210.08 L724.43 208.90 L724.46 206.40 L724.50 203.96 L724.54 201.61 L724.57 199.40 L724.60 197.40 L724.62 195.59 L724.65 193.90 L724.67 192.34 L724.69 190.89 L724.71 189.54 L724.73 188.29 L724.75 187.12 L724.76 186.02 L724.78 184.97 L724.79 183.97 L724.81 183.05 L724.82 182.23 L724.83 181.52 L724.84 180.95 L724.86 180.55 L724.87 180.32 L724.88 180.33 L724.89 180.57 L724.91 180.99 L724.92 181.54 L724.93 182.16 L724.95 182.82 L724.96 183.45 L724.97 184.01 L724.99 184.41 L724.99 184.69 L725.00 184.93 L725.01 185.20 L725.02 185.59 L725.04 186.20 L725.06 187.09 L725.08 188.36 L725.12 190.02 L725.17 192.01 L725.22 194.26 L725.27 196.73 L725.33 199.37 L725.37 201.40 L725.39 202.13 L725.45 204.95 L725.50 207.79 L725.55 210.80 L725.61 214.12 L725.66 217.62 L725.72 221.18 L725.77 224.68 L725.83 227.99 L725.87 231.00 L725.92 233.58 L725.95 235.73 L725.99 237.58 L726.02 239.17 L726.05 240.55 L726.07 241.77 L726.10 242.88 L726.12 243.93 L726.14 244.97 L726.15 245.92 L726.16 246.72 L726.17 247.40 L726.17 248.00 L726.17 248.56 L726.18 249.10 L726.19 249.68 L726.20 250.32 L726.21 251.04 L726.23 251.78 L726.25 252.54 L726.28 253.30 L726.30 254.05 L726.32 254.76 L726.34 255.16 L726.35 255.42 L726.37 256.02 L726.39 256.55 L726.42 257.04 L726.44 257.49 L726.46 257.90 L726.49 258.28 L726.51 258.63 L726.54 258.96 L726.56 259.27 L726.59 259.55 L726.62 259.80 L726.65 260.02 L726.68 260.21 L726.70 260.38 L726.73 260.53 L726.76 260.66 L726.78 260.77 L726.81 260.87 L726.83 260.94 L726.85 260.98 L726.87 261.01 L726.89 261.02 L726.91 261.01 L726.93 261.00 L726.95 260.98 L726.98 260.95 L727.00 260.92 L727.03 260.88 L727.06 260.82 L727.08 260.75 L727.11 260.65 L727.14 260.53 L727.17 260.37 L727.20 260.17 L727.23 259.92 L727.27 259.64 L727.30 259.34 L727.30 259.31 L727.33 259.03 L727.36 258.73 L727.39 258.45 L727.42 258.20 L727.45 257.97 L727.48 257.75 L727.51 257.55 L727.54 257.35 L727.57 257.17 L727.59 257.00 L727.62 256.84 L727.64 256.69 L727.67 256.55 L727.69 256.43 L727.71 256.32 L727.73 256.23 L727.75 256.14 L727.77 256.06 L727.79 255.99 L727.81 255.92 L727.83 255.85 L727.85 255.79 L727.87 255.73 L727.89 255.68 L727.91 255.65 L727.93 255.62 L727.95 255.61 L727.98 255.62 L728.00 255.64 L728.03 255.67 L728.05 255.72 L728.08 255.78 L728.11 255.85 L728.14 255.95 L728.17 256.06 L728.20 256.19 L728.23 256.34 L728.26 256.52 L728.26 256.53 L728.30 256.72 L728.33 256.93 L728.37 257.16 L728.40 257.39 L728.44 257.63 L728.47 257.86 L728.51 258.10 L728.54 258.34 L728.58 258.60 L728.61 258.85 L728.65 259.11 L728.68 259.37 L728.72 259.62 L728.75 259.87 L728.79 260.11 L728.82 260.36 L728.85 260.60 L728.89 260.84 L728.92 261.07 L728.96 261.30 L728.99 261.51 L729.03 261.71 L729.06 261.90 L729.10 262.09 L729.14 262.26 L729.18 262.43 L729.22 262.59 L729.23 262.62 L729.26 262.73 L729.29 262.87 L729.33 262.99 L729.37 263.09 L729.41 263.19 L729.44 263.28 L729.48 263.36 L729.52 263.42 L729.55 263.47 L729.59 263.50 L729.63 263.52 L729.66 263.52 L729.70 263.50 L729.73 263.47 L729.77 263.42 L729.80 263.36 L729.84 263.29 L729.88 263.21 L729.91 263.12 L729.95 263.03 L729.98 262.93 L730.01 262.83 L730.04 262.71 L730.08 262.58 L730.12 262.43 L730.16 262.25 L730.19 262.15 L730.22 262.05 L730.29 261.80 L730.36 261.50 L730.45 261.17 L730.54 260.82 L730.63 260.47 L730.72 260.14 L730.81 259.85 L730.88 259.60 L730.95 259.40 L731.01 259.24 L731.07 259.10 L731.13 258.98 L731.15 258.94 L731.18 258.88 L731.24 258.78 L731.30 258.69 L731.35 258.60 L731.41 258.50 L731.46 258.42 L731.51 258.35 L731.57 258.28 L731.62 258.21 L731.69 258.15 L731.76 258.09 L731.85 258.03 L731.96 257.96 L732.08 257.90 L732.12 257.88 L732.21 257.84 L732.34 257.78 L732.49 257.72 L732.63 257.67 L732.77 257.63 L732.90 257.59 L733.03 257.56 L733.08 257.56 L733.16 257.54 L733.28 257.52 L733.41 257.51 L733.53 257.51 L733.66 257.51 L733.80 257.51 L733.95 257.53 L734.04 257.54 L734.10 257.55 L734.27 257.58 L734.44 257.62 L734.62 257.66 L734.80 257.71 L734.97 257.76 L735.01 257.77 L735.13 257.81 L735.29 257.86 L735.42 257.91 L735.53 257.95 L735.62 257.99 L735.71 258.04 L735.82 258.09 L735.94 258.15 L735.97 258.16 L736.08 258.22 L736.27 258.30 L736.49 258.39 L736.73 258.49 L736.93 258.58 L737.00 258.61 L737.29 258.73 L737.60 258.86 L737.90 258.98 L737.92 258.99 L738.25 259.13 L738.59 259.27 L738.86 259.38 L738.94 259.41 L739.32 259.57 L739.71 259.74 L739.82 259.79 L740.12 259.91 L740.53 260.08 L740.79 260.19 L740.93 260.25 L741.32 260.40 L741.68 260.54 L741.75 260.56 L742.04 260.67 L742.39 260.79 L742.71 260.90 L742.74 260.91 L743.08 261.02 L743.40 261.12 L743.68 261.21 L743.71 261.22 L744.00 261.30 L744.26 261.38 L744.49 261.44 L744.64 261.48 L744.69 261.50 L744.88 261.54 L745.04 261.57 L745.20 261.60 L745.35 261.63 L745.50 261.65 L745.60 261.67 L745.67 261.68 L745.85 261.70 L746.02 261.72 L746.20 261.74 L746.38 261.75 L746.55 261.76 L746.57 261.76 L746.72 261.77 L746.88 261.77 L747.03 261.78 L747.15 261.78 L747.26 261.79 L747.34 261.79 L747.43 261.79 L747.52 261.78 L747.53 261.78 L747.63 261.78 L747.77 261.76 L747.96 261.75 L748.19 261.72 L748.46 261.69 L748.49 261.69 L748.76 261.65 L749.08 261.61 L749.40 261.57 L749.46 261.56 L749.73 261.53 L750.05 261.49 L750.35 261.44 L750.42 261.43 L750.63 261.40 L750.90 261.36 L751.16 261.32 L751.38 261.28 L751.42 261.27 L751.69 261.23 L751.96 261.19 L752.24 261.15 L752.35 261.13 L752.54 261.11 L752.87 261.07 L753.22 261.03 L753.31 261.02 L753.59 261.00 L753.96 260.96 L754.27 260.93 L754.33 260.92 L754.69 260.89 L755.03 260.86 L755.24 260.85 L755.33 260.84 L755.62 260.82 L755.90 260.81 L756.17 260.80 L756.20 260.80 L756.42 260.79 L756.65 260.79 L756.86 260.78 L757.03 260.78 L757.16 260.77 L758.13 260.88 L759.09 260.88 L760.05 260.88 L761.02 260.88 L761.98 260.88 L762.94 260.88 L763.91 260.88 L764.87 260.88 L765.83 260.88 L766.80 260.88 L767.76 260.88 L768.72 260.88 L769.69 260.88 L770.65 260.88 L771.61 260.88 L772.58 260.88 L773.54 260.88 L774.50 260.88 L775.46 260.88 L776.43 260.88 L777.39 260.88 L778.35 260.88 L779.32 260.88 L780.28 260.88 L781.24 260.88 L782.21 260.88 L783.17 260.88 L784.13 260.88 L785.10 260.88 L786.06 260.88 L787.02 260.88 L787.99 260.88 L788.95 260.88 L789.91 260.88 L790.88 260.88 L791.84 260.88 L792.80 260.88 L793.77 260.88 L794.73 260.88 L795.69 260.88 L796.66 260.88 L797.62 260.88 L798.58 260.88 L799.55 260.88 L800.51 260.88 L801.47 260.88 L802.44 260.88 L803.40 260.88 L804.36 260.88 L805.33 260.88 L806.29 260.88 L807.25 260.88 L808.22 260.88 L809.18 260.88 L810.14 260.88 L811.11 260.88 L812.07 260.88 L813.03 260.88 L814.00 260.88 L814.96 260.88 L815.92 260.88 L816.89 260.88 L817.85 260.88 L818.81 260.88 L819.78 260.85 L819.78 260.76 L819.80 260.64 L819.81 260.49 L819.83 260.31 L819.85 260.09 L819.87 259.83 L819.89 259.51 L819.90 259.12 L819.92 258.68 L819.93 258.19 L819.94 257.65 L819.96 257.06 L819.97 256.42 L819.98 255.71 L820.00 254.95 L820.01 254.11 L820.03 253.24 L820.04 252.35 L820.05 251.41 L820.07 250.41 L820.08 249.31 L820.10 248.10 L820.12 246.75 L820.13 245.25 L820.16 243.48 L820.18 241.43 L820.20 239.20 L820.23 236.88 L820.25 234.56 L820.28 232.34 L820.30 230.31 L820.32 228.56 L820.33 227.23 L820.34 226.27 L820.34 225.54 L820.35 224.89 L820.35 224.17 L820.36 223.22 L820.37 221.89 L820.39 220.05 L820.41 217.64 L820.44 214.81 L820.47 211.65 L820.51 208.24 L820.54 204.68 L820.58 201.06 L820.62 197.47 L820.65 194.00 L820.68 190.51 L820.72 186.87 L820.74 184.90 L820.76 183.14 L820.79 179.41 L820.83 175.74 L820.86 172.23 L820.90 168.94 L820.93 165.94 L820.95 163.23 L820.98 160.71 L821.00 158.37 L821.02 156.21 L821.04 154.19 L821.06 152.31 L821.08 150.56 L821.09 148.91 L821.11 147.34 L821.12 145.85 L821.14 144.48 L821.15 143.24 L821.16 142.19 L821.17 141.34 L821.19 140.73 L821.20 140.39 L821.21 140.41 L821.22 140.76 L821.24 141.39 L821.25 142.21 L821.26 143.15 L821.28 144.13 L821.29 145.07 L821.30 145.90 L821.31 146.52 L821.32 146.93 L821.33 147.28 L821.34 147.69 L821.35 148.28 L821.36 149.18 L821.39 150.52 L821.41 152.42 L821.45 154.91 L821.50 157.87 L821.55 161.24 L821.60 164.94 L821.66 168.89 L821.70 171.93 L821.72 173.01 L821.78 177.23 L821.83 181.47 L821.88 185.99 L821.94 190.95 L821.99 196.19 L822.05 201.51 L822.10 206.74 L822.15 211.69 L822.20 216.19 L822.24 220.05 L822.28 223.27 L822.32 226.03 L822.35 228.41 L822.38 230.47 L822.40 232.30 L822.43 233.96 L822.45 235.53 L822.47 237.08 L822.48 238.51 L822.49 239.71 L822.50 240.72 L822.50 241.62 L822.50 242.45 L822.51 243.27 L822.52 244.13 L822.53 245.09 L822.54 246.16 L822.56 247.27 L822.58 248.41 L822.60 249.55 L822.63 250.66 L822.65 251.73 L822.67 252.33 L822.68 252.72 L822.70 253.61 L822.72 254.41 L822.75 255.14 L822.77 255.82 L822.79 256.43 L822.82 257.00 L822.84 257.52 L822.87 258.01 L822.89 258.47 L822.92 258.89 L822.95 259.26 L822.98 259.59 L823.01 259.88 L823.03 260.14 L823.06 260.36 L823.09 260.55 L823.11 260.72 L823.14 260.86 L823.16 260.97 L823.18 261.03 L823.20 261.07 L823.22 261.09 L823.24 261.08 L823.26 261.06 L823.28 261.03 L823.31 260.99 L823.33 260.94 L823.36 260.88 L823.39 260.80 L823.41 260.69 L823.44 260.54 L823.47 260.36 L823.50 260.12 L823.53 259.82 L823.56 259.45 L823.59 259.03 L823.63 258.58 L823.63 258.53 L823.66 258.12 L823.69 257.67 L823.72 257.24 L823.75 256.87 L823.78 256.53 L823.81 256.21 L823.84 255.90 L823.87 255.61 L823.89 255.33 L823.92 255.08 L823.95 254.84 L823.97 254.61 L824.00 254.41 L824.02 254.23 L824.04 254.07 L824.06 253.92 L824.08 253.79 L824.10 253.67 L824.12 253.56 L824.14 253.46 L824.16 253.36 L824.18 253.27 L824.20 253.18 L824.22 253.11 L824.24 253.05 L824.26 253.01 L824.28 253.00 L824.30 253.01 L824.33 253.04 L824.36 253.09 L824.38 253.16 L824.41 253.25 L824.44 253.36 L824.47 253.50 L824.50 253.67 L824.53 253.86 L824.56 254.09 L824.59 254.36 L824.59 254.37 L824.63 254.66 L824.66 254.98 L824.70 255.32 L824.73 255.67 L824.77 256.02 L824.80 256.37 L824.84 256.72 L824.87 257.09 L824.91 257.47 L824.94 257.85 L824.98 258.24 L825.01 258.63 L825.05 259.00 L825.08 259.37 L825.11 259.73 L825.15 260.10 L825.18 260.46 L825.22 260.82 L825.25 261.17 L825.29 261.50 L825.32 261.83 L825.36 262.13 L825.39 262.41 L825.43 262.69 L825.47 262.95 L825.51 263.20 L825.55 263.44 L825.56 263.49 L825.59 263.65 L825.62 263.85 L825.66 264.03 L825.70 264.19 L825.74 264.34 L825.77 264.47 L825.81 264.59 L825.85 264.68 L825.88 264.76 L825.92 264.81 L825.96 264.83 L825.99 264.83 L826.03 264.80 L826.06 264.75 L826.10 264.68 L826.13 264.59 L826.17 264.49 L826.21 264.36 L826.24 264.23 L826.28 264.09 L826.31 263.95 L826.34 263.79 L826.37 263.62 L826.41 263.42 L826.45 263.20 L826.49 262.93 L826.52 262.79 L826.55 262.63 L826.62 262.25 L826.69 261.81 L826.78 261.31 L826.87 260.79 L826.96 260.28 L827.05 259.78 L827.14 259.34 L827.21 258.97 L827.28 258.68 L827.34 258.43 L827.40 258.22 L827.46 258.04 L827.48 257.98 L827.51 257.89 L827.57 257.75 L827.62 257.61 L827.68 257.47 L827.74 257.33 L827.79 257.21 L827.84 257.09 L827.90 256.99 L827.95 256.89 L828.02 256.80 L828.09 256.71 L828.18 256.62 L828.29 256.52 L828.41 256.43 L828.45 256.40 L828.54 256.33 L828.67 256.24 L828.82 256.16 L828.96 256.08 L829.10 256.02 L829.23 255.97 L829.36 255.92 L829.41 255.91 L829.49 255.89 L829.61 255.86 L829.74 255.84 L829.86 255.83 L829.99 255.84 L830.13 255.85 L830.28 255.87 L830.37 255.89 L830.43 255.90 L830.60 255.94 L830.77 256.00 L830.95 256.07 L831.13 256.14 L831.30 256.22 L831.34 256.23 L831.46 256.29 L831.62 256.37 L831.75 256.44 L831.85 256.50 L831.95 256.56 L832.04 256.63 L832.15 256.71 L832.26 256.79 L832.30 256.82 L832.41 256.90 L832.60 257.02 L832.82 257.16 L833.06 257.31 L833.26 257.44 L833.33 257.48 L833.62 257.67 L833.93 257.86 L834.23 258.04 L834.25 258.06 L834.58 258.26 L834.92 258.47 L835.19 258.64 L835.27 258.69 L835.65 258.93 L836.04 259.18 L836.15 259.25 L836.45 259.43 L836.86 259.69 L837.12 259.85 L837.26 259.93 L837.64 260.16 L838.01 260.37 L838.08 260.41 L838.37 260.57 L838.72 260.75 L839.04 260.91 L839.07 260.93 L839.41 261.09 L839.73 261.24 L840.01 261.37 L840.04 261.38 L840.32 261.51 L840.59 261.63 L840.82 261.72 L840.97 261.78 L841.02 261.80 L841.20 261.87 L841.37 261.92 L841.53 261.97 L841.68 262.00 L841.83 262.04 L841.93 262.06 L842.00 262.08 L842.17 262.11 L842.35 262.14 L842.53 262.16 L842.71 262.18 L842.88 262.20 L842.90 262.20 L843.05 262.21 L843.21 262.22 L843.36 262.23 L843.48 262.23 L843.59 262.24 L843.67 262.24 L843.76 262.24 L843.85 262.23 L843.86 262.23 L843.96 262.22 L844.10 262.20 L844.29 262.18 L844.52 262.14 L844.79 262.09 L844.82 262.09 L845.09 262.04 L845.40 261.98 L845.73 261.92 L845.79 261.91 L846.06 261.85 L846.38 261.79 L846.68 261.73 L846.75 261.71 L846.96 261.67 L847.23 261.60 L847.49 261.54 L847.71 261.48 L847.75 261.47 L848.02 261.41 L848.29 261.35 L848.57 261.28 L848.68 261.26 L848.87 261.23 L849.20 261.17 L849.55 261.11 L849.64 261.10 L849.92 261.05 L850.29 261.00 L850.60 260.96 L850.66 260.95 L851.02 260.90 L851.36 260.86 L851.57 260.84 L851.66 260.82 L851.95 260.80 L852.23 260.78 L852.50 260.76 L852.53 260.76 L852.75 260.75 L852.98 260.74 L853.19 260.74 L853.36 260.73 L853.49 260.72 L854.46 260.88 L855.42 260.88 L856.38 260.88 L857.34 260.88 L858.31 260.88 L859.27 260.88 L860.23 260.88 L861.20 260.88 L862.16 260.88 L863.12 260.88 L864.09 260.88 L865.05 260.88 L866.01 260.88 L866.98 260.88 L867.94 260.88 L868.90 260.88 L869.87 260.88 L870.83 260.88 L871.79 260.88 L872.76 260.88 L873.72 260.88 L874.68 260.88 L875.65 260.88 L876.61 260.88 L877.57 260.88 L878.54 260.88 L879.50 260.88 L880.46 260.88 L881.43 260.88 L882.39 260.88 L883.35 260.88 L884.32 260.88 L885.28 260.88 L886.24 260.88 L887.21 260.88 L888.17 260.88 L889.13 260.88 L890.10 260.88 L891.06 260.88 L892.02 260.88 L892.99 260.88 L893.95 260.88 L894.91 260.88 L895.88 260.88 L896.84 260.88 L897.80 260.88 L898.77 260.88 L899.73 260.88 L900.69 260.88 L901.66 260.88 L902.62 260.88 L903.58 260.88 L904.55 260.88 L905.51 260.88 L906.47 260.88 L907.44 260.88 L908.40 260.88 L909.36 260.88 L910.33 260.88 L911.29 260.88 L912.25 260.88 L913.22 260.88 L914.18 260.88 L915.14 260.88 L916.11 260.88 L917.07 260.88 L918.03 260.88 L919.00 260.88 L919.96 260.88 L920.92 260.88 L921.89 260.88 L922.85 260.88 L923.81 260.88 L924.78 260.88 L925.74 260.88 L926.70 260.88 L927.67 260.88 L928.63 260.88 L929.59 260.88 L930.56 260.88 L931.52 260.88 L932.48 260.88 L933.45 260.88 L934.41 260.88 L935.37 260.88 L936.34 260.88 L937.30 260.88 L938.26 260.88 L939.22 260.88 L940.19 260.88 L941.15 260.88 L942.11 260.88 L943.08 260.88 L944.04 260.88 L945.00 260.88 L945.97 260.88 L946.93 260.88 L947.89 260.88 L948.86 260.88 L949.82 260.88 L950.78 260.88 L951.75 260.88 L952.71 260.88 L953.67 260.88 L954.64 260.88 L955.60 260.88 L956.56 260.88 L957.53 260.88 L958.49 260.88 L959.45 260.88 L960.42 260.88 L961.38 260.88 L962.34 260.88 L963.31 260.88 L964.27 260.88 L965.23 260.88 L966.20 260.88 L967.16 260.88 L968.12 260.88 L969.09 260.88 L970.05 260.88 L971.01 260.88 L971.98 260.88 L972.94 260.88 L973.90 260.88 L974.87 260.88 L975.83 260.88 L976.79 260.88 L977.76 260.88 L978.72 260.88 L979.68 260.88 L980.65 260.88 L981.61 260.88 L982.57 260.88 L983.54 260.88 L984.50 260.88 L985.46 260.88 L986.43 260.88 L987.39 260.88 L988.35 260.88 L989.32 260.88 L990.28 260.88 L991.24 260.88 L992.21 260.88 L993.17 260.88 L994.13 260.88 L995.10 260.88 L996.06 260.88 L997.02 260.88 L997.99 260.88 L998.95 260.88 L999.91 260.88 L1000.88 260.88 L1001.84 260.88 L1002.80 260.88 L1003.77 260.88 L1004.73 260.88 L1005.69 260.88 L1006.66 260.88 L1007.62 260.88 L1008.58 260.88 L1009.55 260.88 L1010.51 260.88 L1011.47 260.88 L1012.44 260.90 L1012.44 260.99 L1012.46 261.11 L1012.47 261.26 L1012.49 261.44 L1012.51 261.66 L1012.53 261.92 L1012.54 262.24 L1012.56 262.63 L1012.58 263.07 L1012.59 263.56 L1012.60 264.10 L1012.62 264.69 L1012.63 265.33 L1012.64 266.04 L1012.66 266.80 L1012.67 267.64 L1012.69 268.51 L1012.70 269.40 L1012.71 270.34 L1012.73 271.34 L1012.74 272.44 L1012.76 273.65 L1012.78 275.00 L1012.79 276.50 L1012.81 278.27 L1012.84 280.32 L1012.86 282.55 L1012.89 284.87 L1012.91 287.19 L1012.94 289.41 L1012.96 291.44 L1012.98 293.19 L1012.99 294.52 L1013.00 295.48 L1013.00 296.21 L1013.01 296.86 L1013.01 297.58 L1013.02 298.53 L1013.03 299.86 L1013.05 301.70 L1013.07 304.11 L1013.10 306.94 L1013.13 310.10 L1013.17 313.51 L1013.20 317.07 L1013.24 320.69 L1013.27 324.28 L1013.31 327.75 L1013.34 331.24 L1013.38 334.88 L1013.40 336.85 L1013.42 338.61 L1013.45 342.34 L1013.49 346.01 L1013.52 349.52 L1013.56 352.81 L1013.59 355.81 L1013.61 358.52 L1013.64 361.04 L1013.66 363.38 L1013.68 365.54 L1013.70 367.56 L1013.72 369.44 L1013.73 371.19 L1013.75 372.84 L1013.77 374.41 L1013.78 375.90 L1013.80 377.27 L1013.81 378.51 L1013.82 379.56 L1013.83 380.41 L1013.84 381.02 L1013.86 381.36 L1013.87 381.34 L1013.88 380.99 L1013.90 380.36 L1013.91 379.54 L1013.92 378.60 L1013.94 377.62 L1013.95 376.68 L1013.96 375.85 L1013.97 375.23 L1013.98 374.82 L1013.99 374.47 L1014.00 374.06 L1014.01 373.47 L1014.02 372.57 L1014.04 371.23 L1014.07 369.33 L1014.11 366.84 L1014.16 363.88 L1014.21 360.51 L1014.26 356.81 L1014.32 352.86 L1014.36 349.82 L1014.38 348.74 L1014.43 344.52 L1014.49 340.28 L1014.54 335.76 L1014.60 330.80 L1014.65 325.56 L1014.71 320.24 L1014.76 315.01 L1014.81 310.06 L1014.86 305.56 L1014.90 301.70 L1014.94 298.48 L1014.98 295.72 L1015.01 293.34 L1015.04 291.28 L1015.06 289.45 L1015.09 287.79 L1015.11 286.22 L1015.13 284.67 L1015.14 283.24 L1015.15 282.04 L1015.15 281.03 L1015.16 280.13 L1015.16 279.30 L1015.17 278.48 L1015.17 277.62 L1015.19 276.66 L1015.20 275.59 L1015.22 274.48 L1015.24 273.34 L1015.26 272.20 L1015.29 271.09 L1015.31 270.02 L1015.33 269.42 L1015.33 269.03 L1015.36 268.14 L1015.38 267.34 L1015.40 266.61 L1015.43 265.93 L1015.45 265.32 L1015.48 264.75 L1015.50 264.23 L1015.53 263.74 L1015.55 263.28 L1015.58 262.86 L1015.61 262.49 L1015.63 262.16 L1015.66 261.87 L1015.69 261.61 L1015.72 261.39 L1015.75 261.20 L1015.77 261.03 L1015.80 260.89 L1015.82 260.78 L1015.84 260.72 L1015.86 260.68 L1015.88 260.66 L1015.90 260.67 L1015.92 260.69 L1015.94 260.72 L1015.96 260.76 L1015.99 260.81 L1016.02 260.87 L1016.04 260.95 L1016.07 261.06 L1016.10 261.21 L1016.13 261.39 L1016.16 261.63 L1016.19 261.93 L1016.22 262.30 L1016.25 262.72 L1016.29 263.17 L1016.29 263.22 L1016.32 263.63 L1016.35 264.08 L1016.38 264.51 L1016.41 264.88 L1016.44 265.22 L1016.47 265.54 L1016.50 265.85 L1016.53 266.14 L1016.55 266.42 L1016.58 266.67 L1016.61 266.91 L1016.63 267.14 L1016.65 267.34 L1016.68 267.52 L1016.70 267.68 L1016.72 267.83 L1016.74 267.96 L1016.76 268.08 L1016.78 268.19 L1016.80 268.29 L1016.82 268.39 L1016.84 268.48 L1016.86 268.57 L1016.88 268.64 L1016.90 268.70 L1016.92 268.74 L1016.94 268.75 L1016.96 268.74 L1016.99 268.71 L1017.01 268.66 L1017.04 268.59 L1017.07 268.50 L1017.10 268.39 L1017.12 268.25 L1017.15 268.08 L1017.19 267.89 L1017.22 267.66 L1017.25 267.39 L1017.25 267.38 L1017.29 267.09 L1017.32 266.77 L1017.36 266.43 L1017.39 266.08 L1017.43 265.73 L1017.46 265.38 L1017.50 265.03 L1017.53 264.66 L1017.57 264.28 L1017.60 263.90 L1017.64 263.51 L1017.67 263.12 L1017.70 262.75 L1017.74 262.38 L1017.77 262.02 L1017.81 261.65 L1017.84 261.29 L1017.88 260.93 L1017.91 260.58 L1017.94 260.25 L1017.98 259.92 L1018.02 259.62 L1018.05 259.34 L1018.09 259.06 L1018.13 258.80 L1018.17 258.55 L1018.21 258.31 L1018.22 258.26 L1018.24 258.10 L1018.28 257.90 L1018.32 257.72 L1018.36 257.56 L1018.39 257.41 L1018.43 257.28 L1018.47 257.16 L1018.51 257.07 L1018.54 256.99 L1018.58 256.94 L1018.61 256.92 L1018.65 256.92 L1018.69 256.95 L1018.72 257.00 L1018.76 257.07 L1018.79 257.16 L1018.83 257.26 L1018.87 257.39 L1018.90 257.52 L1018.94 257.66 L1018.97 257.80 L1019.00 257.96 L1019.03 258.13 L1019.07 258.33 L1019.10 258.55 L1019.15 258.82 L1019.18 258.96 L1019.21 259.12 L1019.27 259.50 L1019.35 259.94 L1019.44 260.44 L1019.53 260.96 L1019.62 261.47 L1019.71 261.97 L1019.80 262.41 L1019.87 262.78 L1019.94 263.07 L1020.00 263.32 L1020.06 263.53 L1020.12 263.71 L1020.14 263.77 L1020.17 263.86 L1020.23 264.00 L1020.28 264.14 L1020.34 264.28 L1020.40 264.42 L1020.45 264.54 L1020.50 264.66 L1020.56 264.76 L1020.61 264.86 L1020.68 264.95 L1020.75 265.04 L1020.84 265.13 L1020.95 265.23 L1021.06 265.32 L1021.10 265.35 L1021.20 265.42 L1021.33 265.51 L1021.47 265.59 L1021.62 265.67 L1021.76 265.73 L1021.89 265.78 L1022.02 265.83 L1022.07 265.84 L1022.15 265.86 L1022.27 265.89 L1022.40 265.91 L1022.52 265.92 L1022.65 265.91 L1022.79 265.90 L1022.93 265.88 L1023.03 265.86 L1023.09 265.85 L1023.26 265.81 L1023.43 265.75 L1023.61 265.68 L1023.78 265.61 L1023.96 265.53 L1023.99 265.52 L1024.12 265.46 L1024.27 265.38 L1024.40 265.31 L1024.51 265.25 L1024.61 265.19 L1024.70 265.12 L1024.80 265.04 L1024.92 264.96 L1024.96 264.93 L1025.07 264.85 L1025.25 264.73 L1025.48 264.59 L1025.72 264.44 L1025.92 264.31 L1025.99 264.27 L1026.28 264.08 L1026.59 263.89 L1026.88 263.71 L1026.91 263.69 L1027.24 263.49 L1027.58 263.28 L1027.85 263.11 L1027.93 263.06 L1028.31 262.82 L1028.70 262.57 L1028.81 262.50 L1029.11 262.32 L1029.51 262.06 L1029.77 261.90 L1029.92 261.82 L1030.30 261.59 L1030.67 261.38 L1030.74 261.34 L1031.03 261.18 L1031.38 261.00 L1031.70 260.84 L1031.73 260.82 L1032.06 260.66 L1032.39 260.51 L1032.66 260.38 L1032.70 260.37 L1032.98 260.24 L1033.25 260.12 L1033.48 260.03 L1033.63 259.97 L1033.68 259.95 L1033.86 259.88 L1034.03 259.83 L1034.18 259.78 L1034.34 259.75 L1034.49 259.71 L1034.59 259.69 L1034.66 259.67 L1034.83 259.64 L1035.01 259.61 L1035.19 259.59 L1035.37 259.57 L1035.54 259.55 L1035.55 259.55 L1035.71 259.54 L1035.87 259.53 L1036.02 259.52 L1036.14 259.52 L1036.24 259.51 L1036.33 259.51 L1036.42 259.51 L1036.51 259.52 L1036.52 259.52 L1036.62 259.53 L1036.76 259.55 L1036.95 259.57 L1037.18 259.61 L1037.45 259.66 L1037.48 259.66 L1037.74 259.71 L1038.06 259.77 L1038.39 259.83 L1038.44 259.84 L1038.72 259.90 L1039.04 259.96 L1039.34 260.02 L1039.41 260.04 L1039.62 260.08 L1039.89 260.15 L1040.15 260.21 L1040.37 260.27 L1040.41 260.28 L1040.67 260.34 L1040.95 260.40 L1041.23 260.47 L1041.33 260.49 L1041.53 260.52 L1041.86 260.58 L1042.21 260.64 L1042.30 260.65 L1042.58 260.70 L1042.95 260.75 L1043.26 260.79 L1043.32 260.80 L1043.68 260.85 L1044.02 260.89 L1044.22 260.91 L1044.32 260.93 L1044.61 260.95 L1044.89 260.97 L1045.16 260.99 L1045.19 260.99 L1045.41 261.00 L1045.64 261.01 L1045.84 261.01 L1046.02 261.02 L1046.15 261.03 L1047.11 260.88 L1048.08 260.88 L1049.04 260.88 L1050.00 260.88 L1050.97 260.88 L1051.93 260.88 L1052.89 260.88 L1053.86 260.88 L1054.82 260.88 L1055.78 260.88 L1056.75 260.88 L1057.71 260.88 L1058.67 260.88 L1059.64 260.88 L1060.60 260.88 L1061.56 260.88 L1062.53 260.88 L1063.49 260.88 L1064.45 260.88 L1065.42 260.88 L1066.38 260.88 L1067.34 260.88 L1068.31 260.88 L1069.27 260.88 L1070.23 260.88 L1071.20 260.88 L1072.16 260.88 L1073.12 260.88 L1074.09 260.88 L1075.05 260.88 L1076.01 260.88 L1076.98 260.88 L1077.94 260.88 L1078.90 260.88 L1079.87 260.88 L1080.83 260.88 L1081.79 260.88 L1082.76 260.88 L1083.72 260.88 L1084.68 260.88 L1085.65 260.88 L1086.61 260.88 L1087.57 260.88 L1088.54 260.88 L1089.50 260.88 L1090.46 260.88 L1091.43 260.88 L1092.39 260.88 L1093.35 260.88 L1094.32 260.88 L1095.28 260.88 L1096.24 260.88 L1097.21 260.88 L1098.17 260.88 L1099.13 260.88 L1100.10 260.88 L1101.06 260.88 L1102.02 260.88 L1102.98 260.88 L1103.95 260.88 L1104.91 260.88 L1105.87 260.88 L1106.84 260.88 L1107.80 260.88 L1108.76 260.88" stroke="#ff0000" stroke-width="6.5"/>
<path d="M145.47 260.88 L146.43 260.88 L147.40 260.88 L148.36 260.88 L149.32 260.88 L150.29 260.88 L151.25 260.88 L152.21 260.88 L153.18 260.88 L154.14 260.88 L155.10 260.88 L156.07 260.88 L157.03 260.88 L157.99 260.88 L158.96 260.88 L159.92 260.88 L160.88 260.88 L161.85 260.88 L162.81 260.88 L163.77 260.88 L164.74 260.88 L165.70 260.88 L166.66 260.88 L167.63 260.88 L168.59 260.88 L169.55 260.88 L170.52 260.88 L171.48 260.88 L172.44 260.88 L173.41 260.88 L174.37 260.88 L175.33 260.88 L176.30 260.88 L177.26 260.88 L178.22 260.88 L179.19 260.88 L180.15 260.88 L181.11 260.88 L182.08 260.88 L183.04 260.88 L184.00 260.88 L184.97 260.88 L185.93 260.88 L186.89 260.88 L187.86 260.88 L188.82 260.88 L189.78 260.88 L190.75 260.88 L191.71 260.88 L192.67 260.88 L193.64 260.88 L194.60 260.88 L195.56 260.88 L196.53 260.88 L197.49 260.88 L198.45 260.88 L199.42 260.88 L200.38 260.88 L201.34 260.88 L202.30 260.88 L203.27 260.88 L204.23 260.88 L205.19 260.88 L206.16 260.88 L207.12 260.88 L208.08 260.88 L209.05 260.88 L210.01 260.88 L210.97 260.88 L211.94 260.88 L212.90 260.88 L213.86 260.88 L214.83 260.88 L215.79 260.88 L216.75 260.88 L217.72 260.88 L218.68 260.88 L219.64 260.88 L220.61 260.88 L221.57 260.88 L222.53 260.88 L223.50 260.88 L224.46 260.88 L225.42 260.88 L226.39 260.88 L227.35 260.88 L228.31 260.88 L229.28 260.88 L230.24 260.88 L231.20 260.88 L232.17 260.88 L233.13 260.88 L234.09 260.88 L235.06 260.88 L236.02 260.88 L236.98 260.88 L237.95 260.88 L238.91 260.88 L239.87 260.88 L240.84 260.88 L241.80 260.90 L241.81 261.01 L241.82 261.15 L241.84 261.32 L241.86 261.53 L241.88 261.78 L241.91 262.09 L241.92 262.46 L241.94 262.91 L241.96 263.43 L241.97 264.00 L241.99 264.62 L242.00 265.31 L242.01 266.06 L242.03 266.88 L242.04 267.77 L242.05 268.74 L242.07 269.75 L242.08 270.79 L242.09 271.88 L242.10 273.05 L242.11 274.32 L242.13 275.73 L242.14 277.30 L242.16 279.05 L242.18 281.10 L242.20 283.48 L242.22 286.08 L242.25 288.77 L242.27 291.47 L242.29 294.05 L242.31 296.41 L242.33 298.45 L242.34 300.01 L242.35 301.14 L242.36 302.01 L242.36 302.79 L242.37 303.65 L242.38 304.74 L242.38 306.26 L242.40 308.35 L242.41 311.09 L242.43 314.33 L242.45 317.97 L242.47 321.86 L242.50 325.88 L242.52 329.91 L242.54 333.81 L242.56 337.48 L242.58 340.89 L242.60 344.17 L242.62 347.39 L242.64 350.58 L242.66 353.81 L242.68 357.13 L242.70 360.60 L242.72 364.27 L242.74 368.24 L242.76 372.45 L242.76 372.49 L242.79 376.92 L242.81 381.43 L242.84 385.90 L242.86 390.24 L242.89 394.32 L242.91 398.06 L242.94 401.50 L242.96 404.77 L242.98 407.88 L243.01 410.81 L243.03 413.55 L243.05 416.10 L243.07 418.45 L243.09 420.60 L243.11 422.49 L243.13 424.13 L243.15 425.54 L243.17 426.77 L243.18 427.86 L243.20 428.85 L243.21 429.78 L243.23 430.68 L243.24 431.56 L243.25 432.38 L243.26 433.12 L243.27 433.76 L243.28 434.30 L243.29 434.70 L243.29 434.96 L243.30 435.05 L243.31 434.95 L243.32 434.67 L243.33 434.24 L243.34 433.68 L243.35 433.02 L243.37 432.28 L243.38 431.49 L243.39 430.68 L243.41 429.82 L243.43 428.89 L243.45 427.89 L243.47 426.82 L243.49 425.69 L243.51 424.50 L243.53 423.25 L243.56 421.94 L243.59 420.77 L243.61 419.82 L243.64 418.92 L243.68 417.91 L243.71 416.61 L243.73 415.62 L243.74 414.87 L243.77 412.50 L243.81 409.36 L243.84 405.37 L243.87 400.66 L243.91 395.37 L243.94 389.62 L243.98 383.53 L244.02 377.22 L244.06 370.82 L244.11 364.45 L244.16 357.72 L244.23 350.35 L244.30 342.63 L244.38 334.82 L244.45 327.21 L244.52 320.08 L244.58 313.70 L244.63 308.35 L244.67 304.11 L244.69 302.26 L244.70 300.74 L244.73 298.07 L244.75 295.90 L244.76 294.06 L244.78 292.36 L244.80 290.62 L244.82 288.66 L244.84 286.56 L244.86 284.52 L244.89 282.57 L244.91 280.69 L244.93 278.91 L244.96 277.23 L244.98 275.66 L245.00 274.21 L245.02 272.90 L245.04 271.74 L245.05 270.69 L245.07 269.73 L245.09 268.86 L245.10 268.03 L245.12 267.24 L245.14 266.47 L245.16 265.71 L245.18 265.00 L245.19 264.34 L245.21 263.73 L245.23 263.16 L245.25 262.64 L245.27 262.17 L245.29 261.75 L245.31 261.37 L245.33 261.03 L245.35 260.74 L245.37 260.50 L245.40 260.31 L245.42 260.18 L245.44 260.12 L245.46 260.12 L245.48 260.19 L245.50 260.34 L245.53 260.56 L245.55 260.83 L245.57 261.15 L245.59 261.52 L245.61 261.91 L245.64 262.33 L245.65 262.70 L245.66 262.79 L245.68 263.30 L245.70 263.85 L245.72 264.44 L245.74 265.06 L245.76 265.69 L245.78 266.34 L245.80 266.99 L245.83 267.66 L245.85 268.34 L245.88 269.05 L245.90 269.77 L245.93 270.51 L245.95 271.25 L245.98 272.00 L246.01 272.76 L246.04 273.51 L246.06 274.27 L246.09 275.04 L246.12 275.81 L246.15 276.60 L246.18 277.40 L246.21 278.21 L246.24 279.05 L246.27 279.92 L246.30 280.82 L246.32 281.75 L246.35 282.68 L246.38 283.62 L246.41 284.53 L246.44 285.42 L246.47 286.27 L246.50 287.11 L246.53 287.95 L246.57 288.79 L246.60 289.60 L246.62 289.90 L246.64 290.37 L246.67 291.07 L246.71 291.69 L246.74 292.21 L246.78 292.63 L246.81 292.97 L246.85 293.24 L246.88 293.43 L246.91 293.57 L246.95 293.65 L246.98 293.68 L247.02 293.67 L247.05 293.63 L247.08 293.54 L247.12 293.42 L247.15 293.23 L247.18 292.98 L247.22 292.66 L247.26 292.25 L247.29 291.75 L247.33 291.12 L247.37 290.36 L247.41 289.51 L247.45 288.58 L247.49 287.62 L247.54 286.65 L247.58 285.71 L247.58 285.60 L247.61 284.82 L247.65 283.96 L247.69 283.11 L247.72 282.27 L247.76 281.43 L247.79 280.59 L247.83 279.74 L247.86 278.90 L247.89 278.06 L247.92 277.21 L247.95 276.36 L247.98 275.50 L248.00 274.65 L248.03 273.80 L248.06 272.95 L248.09 272.12 L248.12 271.30 L248.15 270.48 L248.18 269.64 L248.22 268.80 L248.26 267.98 L248.29 267.18 L248.33 266.42 L248.36 265.71 L248.39 265.07 L248.42 264.50 L248.45 263.98 L248.48 263.52 L248.50 263.09 L248.53 262.70 L248.54 262.43 L248.55 262.33 L248.57 261.98 L248.60 261.63 L248.62 261.30 L248.65 260.99 L248.67 260.70 L248.70 260.44 L248.72 260.19 L248.75 259.96 L248.77 259.74 L248.80 259.54 L248.84 259.34 L248.87 259.17 L248.91 259.01 L248.95 258.86 L248.98 258.73 L249.02 258.62 L249.06 258.52 L249.10 258.43 L249.13 258.35 L249.17 258.28 L249.20 258.22 L249.23 258.18 L249.26 258.16 L249.30 258.16 L249.33 258.19 L249.37 258.25 L249.42 258.36 L249.46 258.49 L249.51 258.64 L249.51 258.66 L249.56 258.86 L249.62 259.07 L249.67 259.28 L249.72 259.50 L249.76 259.71 L249.81 259.92 L249.85 260.16 L249.89 260.40 L249.94 260.64 L249.98 260.88 L250.02 261.11 L250.06 261.33 L250.09 261.52 L250.13 261.68 L250.17 261.84 L250.20 261.98 L250.24 262.11 L250.27 262.23 L250.31 262.33 L250.34 262.43 L250.37 262.51 L250.40 262.57 L250.43 262.62 L250.46 262.66 L250.47 262.68 L250.48 262.69 L250.51 262.71 L250.54 262.71 L250.56 262.70 L250.59 262.68 L250.62 262.65 L250.65 262.62 L250.68 262.58 L250.71 262.53 L250.74 262.46 L250.77 262.37 L250.81 262.25 L250.84 262.10 L250.88 261.91 L250.92 261.69 L250.97 261.44 L251.01 261.16 L251.06 260.88 L251.11 260.58 L251.16 260.29 L251.20 260.00 L251.25 259.71 L251.30 259.41 L251.35 259.10 L251.39 258.79 L251.43 258.54 L251.44 258.48 L251.49 258.18 L251.54 257.89 L251.59 257.61 L251.64 257.35 L251.69 257.10 L251.74 256.86 L251.79 256.63 L251.84 256.40 L251.88 256.19 L251.93 255.99 L251.98 255.81 L252.02 255.64 L252.06 255.48 L252.11 255.34 L252.15 255.21 L252.19 255.08 L252.23 254.97 L252.27 254.86 L252.31 254.76 L252.35 254.66 L252.38 254.58 L252.40 254.53 L252.41 254.51 L252.43 254.44 L252.47 254.37 L252.51 254.31 L252.57 254.25 L252.64 254.18 L252.73 254.10 L252.84 254.04 L252.96 253.97 L253.09 253.90 L253.22 253.83 L253.36 253.76 L253.36 253.76 L253.50 253.68 L253.64 253.59 L253.78 253.50 L253.94 253.41 L254.10 253.32 L254.26 253.21 L254.32 253.17 L254.42 253.11 L254.57 253.00 L254.72 252.89 L254.86 252.78 L254.98 252.66 L255.09 252.52 L255.20 252.38 L255.29 252.26 L255.30 252.24 L255.40 252.10 L255.49 251.96 L255.59 251.84 L255.69 251.73 L255.79 251.63 L255.88 251.54 L255.98 251.45 L256.07 251.38 L256.17 251.31 L256.25 251.25 L256.26 251.24 L256.36 251.19 L256.46 251.15 L256.57 251.11 L256.68 251.08 L256.79 251.07 L256.90 251.06 L257.01 251.05 L257.12 251.06 L257.21 251.07 L257.24 251.07 L257.35 251.09 L257.45 251.11 L257.54 251.12 L257.62 251.14 L257.70 251.17 L257.80 251.22 L257.93 251.28 L258.09 251.37 L258.18 251.43 L258.29 251.50 L258.55 251.66 L258.85 251.86 L259.14 252.06 L259.18 252.09 L259.54 252.34 L259.92 252.60 L260.10 252.73 L260.30 252.86 L260.68 253.12 L261.04 253.36 L261.07 253.37 L261.39 253.59 L261.74 253.81 L262.03 254.00 L262.07 254.03 L262.42 254.25 L262.78 254.47 L262.99 254.60 L263.16 254.70 L263.57 254.93 L263.96 255.13 L264.02 255.17 L264.52 255.42 L264.92 255.62 L265.05 255.69 L265.62 255.97 L265.88 256.10 L266.21 256.25 L266.81 256.53 L266.85 256.55 L267.41 256.79 L267.81 256.96 L268.01 257.04 L268.59 257.26 L268.77 257.32 L269.18 257.46 L269.74 257.63 L269.79 257.65 L270.41 257.82 L270.70 257.89 L271.03 257.97 L271.63 258.12 L271.66 258.12 L272.20 258.25 L272.63 258.35 L272.72 258.37 L273.19 258.49 L273.59 258.59 L273.60 258.59 L273.98 258.68 L274.33 258.76 L274.55 258.81 L274.64 258.83 L274.91 258.88 L275.15 258.93 L275.35 258.98 L275.52 259.01 L276.48 260.88 L277.44 260.88 L278.41 260.88 L279.37 260.88 L280.33 260.88 L281.30 260.88 L282.26 260.88 L283.22 260.88 L284.18 260.88 L285.15 260.88 L286.11 260.88 L287.07 260.88 L288.04 260.88 L289.00 260.88 L289.96 260.88 L290.93 260.88 L291.89 260.88 L292.85 260.88 L293.82 260.88 L294.78 260.88 L295.74 260.88 L296.71 260.88 L297.67 260.88 L298.63 260.88 L299.60 260.88 L300.56 260.88 L301.52 260.88 L302.49 260.88 L303.45 260.88 L304.41 260.88 L305.38 260.88 L306.34 260.88 L307.30 260.88 L308.27 260.88 L309.23 260.88 L310.19 260.88 L311.16 260.88 L312.12 260.88 L313.08 260.88 L314.05 260.88 L315.01 260.88 L315.97 260.88 L316.94 260.88 L317.90 260.88 L318.86 260.88 L319.83 260.88 L320.79 260.88 L321.75 260.88 L322.72 260.88 L323.68 260.88 L324.64 260.88 L325.61 260.88 L326.57 260.88 L327.53 260.88 L328.50 260.88 L329.46 260.88 L330.42 260.88 L331.39 260.88 L332.35 260.88 L333.31 260.88 L334.28 260.88 L335.24 260.88 L336.20 260.88 L337.17 260.88 L338.13 260.88 L339.09 260.88 L340.06 260.88 L341.02 260.88 L341.98 260.88 L342.95 260.88 L343.91 260.88 L344.87 260.88 L345.84 260.88 L346.80 260.88 L347.76 260.88 L348.73 260.88 L349.69 260.88 L350.65 260.88 L351.62 260.88 L352.58 260.88 L353.54 260.88 L354.51 260.88 L355.47 260.88 L356.43 260.88 L357.40 260.88 L358.36 260.88 L359.32 260.88 L360.29 260.88 L361.25 260.88 L362.21 260.88 L363.18 260.88 L364.14 260.88 L365.10 260.88 L366.06 260.88 L367.03 260.88 L367.99 260.88 L368.95 260.88 L369.92 260.88 L370.88 260.88 L371.84 260.88 L372.81 260.88 L373.77 260.88 L374.73 260.88 L375.70 260.88 L376.66 260.88 L377.62 260.88 L378.59 260.88 L379.55 260.88 L380.51 260.88 L381.48 260.88 L382.44 260.88 L383.40 260.88 L384.37 260.88 L385.33 260.88 L386.29 260.88 L387.26 260.88 L388.22 260.88 L389.18 260.88 L390.15 260.88 L391.11 260.88 L392.07 260.88 L393.04 260.88 L394.00 260.88 L394.96 260.88 L395.93 260.88 L396.89 260.88 L397.85 260.88 L398.82 260.88 L399.78 260.88 L400.74 260.88 L401.71 260.88 L402.67 260.88 L403.63 260.88 L404.60 260.88 L405.56 260.88 L406.52 260.88 L407.49 260.88 L408.45 260.88 L409.41 260.88 L410.38 260.88 L411.34 260.88 L412.30 260.88 L413.27 260.88 L414.23 260.88 L415.19 260.88 L416.16 260.88 L417.12 260.88 L418.08 260.88 L419.05 260.88 L420.01 260.88 L420.97 260.88 L421.94 260.88 L422.90 260.88 L423.86 260.88 L424.83 260.88 L425.79 260.88 L426.75 260.88 L427.72 260.88 L428.68 260.88 L429.64 260.88 L430.61 260.88 L431.57 260.88 L432.53 260.88 L433.50 260.88 L434.46 260.85 L434.47 260.74 L434.48 260.60 L434.50 260.43 L434.52 260.22 L434.54 259.97 L434.56 259.66 L434.58 259.29 L434.60 258.84 L434.62 258.32 L434.63 257.75 L434.65 257.13 L434.66 256.44 L434.67 255.69 L434.69 254.87 L434.70 253.98 L434.71 253.01 L434.72 252.00 L434.74 250.96 L434.75 249.87 L434.76 248.70 L434.77 247.43 L434.79 246.02 L434.80 244.45 L434.82 242.70 L434.84 240.65 L434.86 238.27 L434.88 235.67 L434.91 232.98 L434.93 230.28 L434.95 227.70 L434.97 225.34 L434.99 223.30 L435.00 221.74 L435.01 220.61 L435.02 219.74 L435.02 218.96 L435.03 218.10 L435.03 217.01 L435.04 215.49 L435.06 213.40 L435.07 210.66 L435.09 207.42 L435.11 203.78 L435.13 199.89 L435.16 195.87 L435.18 191.84 L435.20 187.94 L435.22 184.27 L435.24 180.86 L435.26 177.58 L435.28 174.36 L435.30 171.17 L435.32 167.94 L435.34 164.62 L435.36 161.15 L435.38 157.48 L435.40 153.51 L435.42 149.30 L435.42 149.26 L435.45 144.83 L435.47 140.32 L435.50 135.85 L435.52 131.51 L435.55 127.43 L435.57 123.69 L435.59 120.25 L435.62 116.98 L435.64 113.87 L435.67 110.94 L435.69 108.20 L435.71 105.65 L435.73 103.30 L435.75 101.15 L435.77 99.26 L435.79 97.62 L435.81 96.21 L435.83 94.98 L435.84 93.89 L435.86 92.90 L435.87 91.97 L435.89 91.07 L435.90 90.19 L435.91 89.37 L435.92 88.63 L435.93 87.99 L435.94 87.45 L435.94 87.05 L435.95 86.79 L435.96 86.70 L435.97 86.80 L435.98 87.08 L435.99 87.51 L436.00 88.07 L436.01 88.73 L436.02 89.47 L436.04 90.26 L436.05 91.07 L436.07 91.93 L436.09 92.86 L436.10 93.86 L436.13 94.93 L436.15 96.06 L436.17 97.25 L436.19 98.50 L436.22 99.81 L436.24 100.98 L436.27 101.93 L436.30 102.83 L436.33 103.84 L436.37 105.14 L436.39 106.13 L436.40 106.88 L436.43 109.25 L436.47 112.39 L436.50 116.38 L436.53 121.09 L436.57 126.38 L436.60 132.13 L436.64 138.22 L436.67 144.53 L436.72 150.93 L436.77 157.30 L436.82 164.03 L436.89 171.40 L436.96 179.12 L437.04 186.93 L437.11 194.54 L437.18 201.67 L437.24 208.05 L437.29 213.40 L437.33 217.64 L437.35 219.49 L437.36 221.01 L437.39 223.68 L437.41 225.85 L437.42 227.69 L437.44 229.39 L437.45 231.13 L437.48 233.09 L437.50 235.19 L437.52 237.23 L437.55 239.18 L437.57 241.06 L437.59 242.84 L437.62 244.52 L437.64 246.09 L437.66 247.54 L437.68 248.85 L437.70 250.01 L437.71 251.06 L437.73 252.02 L437.75 252.89 L437.76 253.72 L437.78 254.51 L437.80 255.28 L437.82 256.04 L437.83 256.75 L437.85 257.41 L437.87 258.02 L437.89 258.59 L437.91 259.11 L437.93 259.58 L437.95 260.00 L437.97 260.38 L437.99 260.72 L438.01 261.01 L438.03 261.25 L438.05 261.44 L438.08 261.57 L438.10 261.63 L438.12 261.63 L438.14 261.56 L438.16 261.41 L438.18 261.19 L438.21 260.92 L438.23 260.60 L438.25 260.23 L438.27 259.84 L438.30 259.42 L438.31 259.05 L438.32 258.96 L438.34 258.45 L438.36 257.90 L438.38 257.31 L438.40 256.69 L438.42 256.06 L438.44 255.41 L438.46 254.76 L438.48 254.09 L438.51 253.41 L438.53 252.70 L438.56 251.98 L438.59 251.24 L438.61 250.50 L438.64 249.75 L438.67 248.99 L438.69 248.24 L438.72 247.48 L438.75 246.71 L438.78 245.94 L438.81 245.15 L438.84 244.35 L438.87 243.54 L438.90 242.70 L438.93 241.83 L438.95 240.93 L438.98 240.00 L439.01 239.07 L439.04 238.13 L439.07 237.22 L439.10 236.33 L439.13 235.48 L439.16 234.64 L439.19 233.80 L439.23 232.96 L439.26 232.15 L439.28 231.85 L439.30 231.38 L439.33 230.68 L439.37 230.06 L439.40 229.54 L439.44 229.12 L439.47 228.78 L439.50 228.51 L439.54 228.32 L439.57 228.18 L439.61 228.10 L439.64 228.07 L439.67 228.08 L439.71 228.12 L439.74 228.21 L439.78 228.33 L439.81 228.52 L439.84 228.77 L439.88 229.09 L439.91 229.50 L439.95 230.00 L439.99 230.63 L440.03 231.39 L440.07 232.24 L440.11 233.17 L440.15 234.13 L440.19 235.10 L440.23 236.04 L440.24 236.15 L440.27 236.93 L440.31 237.79 L440.35 238.64 L440.38 239.48 L440.42 240.32 L440.45 241.16 L440.48 242.01 L440.52 242.85 L440.55 243.69 L440.58 244.54 L440.61 245.39 L440.64 246.25 L440.66 247.10 L440.69 247.95 L440.72 248.80 L440.75 249.63 L440.78 250.45 L440.81 251.27 L440.84 252.11 L440.88 252.95 L440.92 253.77 L440.95 254.57 L440.99 255.33 L441.02 256.04 L441.05 256.68 L441.08 257.25 L441.11 257.77 L441.14 258.23 L441.16 258.66 L441.18 259.05 L441.20 259.32 L441.21 259.42 L441.23 259.77 L441.26 260.12 L441.28 260.45 L441.31 260.76 L441.33 261.05 L441.35 261.31 L441.38 261.56 L441.41 261.79 L441.43 262.01 L441.46 262.21 L441.50 262.41 L441.53 262.58 L441.57 262.74 L441.61 262.89 L441.64 263.02 L441.68 263.13 L441.72 263.23 L441.76 263.32 L441.79 263.40 L441.82 263.47 L441.86 263.53 L441.89 263.57 L441.92 263.59 L441.96 263.59 L441.99 263.56 L442.03 263.50 L442.08 263.39 L442.12 263.26 L442.17 263.11 L442.17 263.09 L442.22 262.89 L442.27 262.68 L442.33 262.47 L442.37 262.25 L442.42 262.04 L442.47 261.83 L442.51 261.59 L442.55 261.35 L442.59 261.11 L442.64 260.87 L442.68 260.64 L442.71 260.42 L442.75 260.23 L442.79 260.07 L442.83 259.91 L442.86 259.77 L442.90 259.64 L442.93 259.52 L442.97 259.42 L443.00 259.32 L443.03 259.24 L443.06 259.18 L443.09 259.13 L443.12 259.09 L443.13 259.07 L443.14 259.06 L443.17 259.04 L443.20 259.04 L443.22 259.05 L443.25 259.07 L443.28 259.10 L443.31 259.13 L443.34 259.17 L443.37 259.22 L443.40 259.29 L443.43 259.38 L443.46 259.50 L443.50 259.65 L443.54 259.84 L443.58 260.06 L443.63 260.31 L443.67 260.59 L443.72 260.87 L443.77 261.17 L443.81 261.46 L443.86 261.75 L443.91 262.04 L443.96 262.34 L444.00 262.65 L444.05 262.96 L444.09 263.21 L444.10 263.27 L444.15 263.57 L444.20 263.86 L444.25 264.14 L444.30 264.40 L444.35 264.65 L444.40 264.89 L444.45 265.12 L444.50 265.35 L444.54 265.56 L444.59 265.76 L444.64 265.94 L444.68 266.11 L444.72 266.27 L444.77 266.41 L444.81 266.54 L444.85 266.67 L444.89 266.78 L444.93 266.89 L444.97 266.99 L445.01 267.09 L445.04 267.17 L445.06 267.22 L445.06 267.24 L445.09 267.31 L445.13 267.38 L445.17 267.44 L445.23 267.50 L445.30 267.57 L445.39 267.65 L445.50 267.71 L445.62 267.78 L445.74 267.85 L445.88 267.92 L446.02 267.99 L446.02 267.99 L446.16 268.07 L446.30 268.16 L446.44 268.25 L446.60 268.34 L446.76 268.43 L446.92 268.54 L446.98 268.58 L447.08 268.64 L447.23 268.75 L447.38 268.86 L447.52 268.97 L447.64 269.09 L447.75 269.23 L447.86 269.37 L447.94 269.49 L447.96 269.51 L448.06 269.65 L448.15 269.79 L448.25 269.91 L448.35 270.02 L448.45 270.12 L448.54 270.21 L448.64 270.30 L448.73 270.37 L448.83 270.44 L448.91 270.50 L448.92 270.51 L449.02 270.56 L449.12 270.60 L449.23 270.64 L449.33 270.67 L449.44 270.68 L449.56 270.69 L449.67 270.70 L449.78 270.69 L449.87 270.68 L449.89 270.68 L450.01 270.66 L450.11 270.64 L450.20 270.63 L450.28 270.61 L450.36 270.58 L450.46 270.53 L450.59 270.47 L450.75 270.38 L450.83 270.32 L450.95 270.25 L451.21 270.09 L451.51 269.89 L451.80 269.69 L451.84 269.66 L452.20 269.41 L452.57 269.15 L452.76 269.02 L452.96 268.89 L453.34 268.63 L453.70 268.39 L453.72 268.38 L454.05 268.16 L454.39 267.94 L454.69 267.75 L454.73 267.72 L455.08 267.50 L455.44 267.28 L455.65 267.15 L455.82 267.05 L456.23 266.82 L456.61 266.62 L456.68 266.58 L457.18 266.33 L457.58 266.13 L457.71 266.06 L458.28 265.78 L458.54 265.65 L458.87 265.50 L459.47 265.22 L459.50 265.20 L460.07 264.96 L460.47 264.79 L460.67 264.71 L461.25 264.49 L461.43 264.43 L461.84 264.29 L462.39 264.12 L462.45 264.10 L463.07 263.93 L463.36 263.86 L463.69 263.78 L464.29 263.63 L464.32 263.63 L464.86 263.50 L465.28 263.40 L465.38 263.38 L465.85 263.26 L466.25 263.16 L466.26 263.16 L466.64 263.07 L466.99 262.99 L467.21 262.94 L467.30 262.92 L467.57 262.87 L467.81 262.82 L468.01 262.77 L468.17 262.74 L469.14 260.88 L470.10 260.88 L471.06 260.88 L472.03 260.88 L472.99 260.88 L473.95 260.88 L474.92 260.88 L475.88 260.88 L476.84 260.88 L477.81 260.88 L478.77 260.88 L479.73 260.88 L480.70 260.88 L481.66 260.88 L482.62 260.88 L483.59 260.88 L484.55 260.88 L485.51 260.88 L486.48 260.88 L487.44 260.88 L488.40 260.88 L489.37 260.88 L490.33 260.88 L491.29 260.88 L492.26 260.88 L493.22 260.88 L494.18 260.88 L495.15 260.88 L496.11 260.88 L497.07 260.88 L498.04 260.88 L499.00 260.88 L499.96 260.88 L500.93 260.88 L501.89 260.88 L502.85 260.88 L503.82 260.88 L504.78 260.88 L505.74 260.88 L506.71 260.88 L507.67 260.88 L508.63 260.88 L509.60 260.88 L510.56 260.88 L511.52 260.88 L512.49 260.88 L513.45 260.88 L514.41 260.88 L515.38 260.88 L516.34 260.88 L517.30 260.88 L518.27 260.88 L519.23 260.88 L520.19 260.88 L521.16 260.88 L522.12 260.88 L523.08 260.88 L524.05 260.88 L525.01 260.88 L525.97 260.88 L526.94 260.88 L527.90 260.88 L528.86 260.88 L529.82 260.88 L530.79 260.89 L530.80 260.95 L530.81 261.03 L530.83 261.13 L530.85 261.25 L530.87 261.39 L530.89 261.57 L530.91 261.78 L530.93 262.04 L530.95 262.33 L530.96 262.66 L530.97 263.01 L530.99 263.40 L531.00 263.83 L531.01 264.30 L531.03 264.81 L531.04 265.36 L531.05 265.93 L531.07 266.53 L531.08 267.15 L531.09 267.81 L531.10 268.54 L531.12 269.34 L531.13 270.23 L531.15 271.23 L531.17 272.41 L531.19 273.76 L531.21 275.24 L531.23 276.78 L531.26 278.31 L531.28 279.79 L531.30 281.13 L531.32 282.29 L531.33 283.18 L531.34 283.83 L531.35 284.32 L531.35 284.77 L531.36 285.25 L531.36 285.88 L531.37 286.74 L531.38 287.94 L531.40 289.50 L531.42 291.35 L531.44 293.42 L531.46 295.63 L531.48 297.93 L531.51 300.22 L531.53 302.45 L531.55 304.54 L531.57 306.48 L531.59 308.36 L531.61 310.19 L531.63 312.01 L531.65 313.85 L531.66 315.74 L531.68 317.72 L531.71 319.81 L531.73 322.07 L531.75 324.47 L531.75 324.49 L531.78 327.02 L531.80 329.59 L531.83 332.14 L531.85 334.61 L531.88 336.94 L531.90 339.07 L531.92 341.03 L531.95 342.90 L531.97 344.67 L531.99 346.34 L532.02 347.90 L532.04 349.36 L532.06 350.70 L532.08 351.92 L532.10 353.00 L532.12 353.93 L532.14 354.74 L532.16 355.44 L532.17 356.06 L532.19 356.62 L532.20 357.15 L532.22 357.66 L532.23 358.16 L532.24 358.63 L532.25 359.05 L532.26 359.42 L532.27 359.73 L532.27 359.96 L532.28 360.10 L532.29 360.15 L532.30 360.10 L532.31 359.94 L532.32 359.69 L532.33 359.37 L532.34 359.00 L532.35 358.58 L532.37 358.13 L532.38 357.66 L532.40 357.17 L532.42 356.64 L532.43 356.07 L532.45 355.46 L532.48 354.82 L532.50 354.14 L532.52 353.43 L532.55 352.68 L532.57 352.02 L532.60 351.47 L532.63 350.96 L532.66 350.38 L532.70 349.65 L532.71 349.08 L532.73 348.65 L532.76 347.30 L532.80 345.51 L532.83 343.24 L532.86 340.55 L532.90 337.54 L532.93 334.26 L532.96 330.79 L533.00 327.19 L533.05 323.54 L533.10 319.91 L533.15 316.08 L533.22 311.88 L533.29 307.47 L533.37 303.02 L533.44 298.69 L533.51 294.62 L533.57 290.98 L533.62 287.94 L533.66 285.52 L533.68 284.46 L533.69 283.60 L533.72 282.08 L533.73 280.84 L533.75 279.79 L533.77 278.82 L533.78 277.83 L533.80 276.71 L533.83 275.51 L533.85 274.35 L533.88 273.24 L533.90 272.17 L533.92 271.16 L533.94 270.20 L533.97 269.30 L533.99 268.48 L534.01 267.73 L534.02 267.07 L534.04 266.47 L534.06 265.92 L534.07 265.42 L534.09 264.96 L534.11 264.51 L534.13 264.06 L534.14 263.63 L534.16 263.23 L534.18 262.85 L534.20 262.50 L534.22 262.18 L534.24 261.88 L534.26 261.61 L534.28 261.37 L534.30 261.16 L534.32 260.97 L534.34 260.80 L534.36 260.66 L534.38 260.55 L534.40 260.48 L534.43 260.44 L534.45 260.44 L534.47 260.49 L534.49 260.57 L534.51 260.69 L534.54 260.85 L534.56 261.03 L534.58 261.24 L534.60 261.47 L534.62 261.71 L534.64 261.92 L534.65 261.97 L534.67 262.26 L534.69 262.57 L534.71 262.91 L534.73 263.26 L534.75 263.62 L534.77 263.99 L534.79 264.36 L534.81 264.74 L534.84 265.13 L534.86 265.53 L534.89 265.95 L534.91 266.37 L534.94 266.79 L534.97 267.22 L535.00 267.65 L535.02 268.08 L535.05 268.51 L535.08 268.95 L535.11 269.39 L535.14 269.84 L535.17 270.29 L535.20 270.76 L535.23 271.23 L535.26 271.73 L535.28 272.24 L535.31 272.77 L535.34 273.31 L535.37 273.84 L535.40 274.36 L535.42 274.87 L535.46 275.35 L535.49 275.83 L535.52 276.31 L535.56 276.79 L535.59 277.25 L535.60 277.42 L535.63 277.69 L535.66 278.09 L535.70 278.44 L535.73 278.74 L535.77 278.98 L535.80 279.17 L535.83 279.32 L535.87 279.43 L535.90 279.51 L535.94 279.56 L535.97 279.57 L536.00 279.57 L536.04 279.54 L536.07 279.50 L536.10 279.42 L536.14 279.32 L536.17 279.18 L536.21 278.99 L536.24 278.76 L536.28 278.47 L536.32 278.11 L536.36 277.68 L536.40 277.20 L536.44 276.67 L536.48 276.12 L536.52 275.57 L536.56 275.03 L536.57 274.97 L536.60 274.52 L536.64 274.04 L536.68 273.55 L536.71 273.07 L536.75 272.59 L536.78 272.11 L536.81 271.63 L536.85 271.15 L536.88 270.67 L536.91 270.19 L536.94 269.70 L536.97 269.21 L536.99 268.73 L537.02 268.24 L537.05 267.76 L537.08 267.29 L537.11 266.82 L537.14 266.35 L537.17 265.87 L537.21 265.39 L537.25 264.92 L537.28 264.47 L537.32 264.03 L537.35 263.63 L537.38 263.27 L537.41 262.94 L537.44 262.65 L537.46 262.38 L537.49 262.14 L537.51 261.92 L537.53 261.76 L537.54 261.71 L537.56 261.50 L537.59 261.31 L537.61 261.12 L537.64 260.94 L537.66 260.78 L537.68 260.63 L537.71 260.48 L537.73 260.35 L537.76 260.23 L537.79 260.11 L537.82 260.00 L537.86 259.90 L537.90 259.81 L537.93 259.73 L537.97 259.65 L538.01 259.59 L538.05 259.53 L538.09 259.48 L538.12 259.44 L538.15 259.40 L538.19 259.36 L538.22 259.34 L538.25 259.33 L538.29 259.33 L538.32 259.35 L538.36 259.38 L538.41 259.44 L538.45 259.52 L538.49 259.60 L538.50 259.62 L538.55 259.73 L538.60 259.84 L538.65 259.97 L538.70 260.09 L538.75 260.21 L538.80 260.33 L538.84 260.47 L538.88 260.60 L538.92 260.74 L538.96 260.88 L539.00 261.01 L539.04 261.13 L539.08 261.24 L539.12 261.34 L539.16 261.42 L539.19 261.51 L539.23 261.58 L539.26 261.65 L539.30 261.71 L539.33 261.76 L539.36 261.80 L539.39 261.84 L539.42 261.87 L539.45 261.90 L539.46 261.90 L539.47 261.91 L539.50 261.92 L539.53 261.92 L539.55 261.92 L539.58 261.90 L539.61 261.89 L539.64 261.87 L539.67 261.85 L539.70 261.82 L539.73 261.78 L539.76 261.73 L539.79 261.66 L539.83 261.57 L539.87 261.47 L539.91 261.34 L539.96 261.19 L540.00 261.04 L540.05 260.88 L540.10 260.71 L540.14 260.54 L540.19 260.38 L540.24 260.21 L540.29 260.04 L540.33 259.86 L540.38 259.69 L540.42 259.55 L540.43 259.51 L540.48 259.34 L540.53 259.17 L540.58 259.02 L540.63 258.87 L540.68 258.72 L540.73 258.59 L540.78 258.45 L540.82 258.33 L540.87 258.21 L540.92 258.09 L540.97 257.99 L541.01 257.89 L541.05 257.80 L541.09 257.72 L541.14 257.64 L541.18 257.57 L541.22 257.51 L541.26 257.45 L541.30 257.39 L541.34 257.33 L541.37 257.29 L541.38 257.26 L541.39 257.24 L541.42 257.21 L541.46 257.17 L541.50 257.13 L541.56 257.10 L541.63 257.06 L541.72 257.02 L541.83 256.98 L541.95 256.94 L542.07 256.90 L542.21 256.86 L542.35 256.82 L542.35 256.82 L542.49 256.77 L542.63 256.72 L542.77 256.67 L542.93 256.62 L543.08 256.57 L543.25 256.51 L543.31 256.49 L543.41 256.45 L543.56 256.39 L543.71 256.33 L543.85 256.26 L543.97 256.19 L544.08 256.11 L544.19 256.03 L544.27 255.96 L544.29 255.95 L544.39 255.87 L544.48 255.80 L544.58 255.73 L544.68 255.66 L544.78 255.61 L544.87 255.55 L544.97 255.51 L545.06 255.46 L545.16 255.42 L545.24 255.39 L545.25 255.39 L545.35 255.36 L545.45 255.33 L545.56 255.31 L545.66 255.29 L545.77 255.28 L545.88 255.28 L546.00 255.28 L546.11 255.28 L546.20 255.28 L546.22 255.29 L546.34 255.30 L546.44 255.31 L546.53 255.32 L546.61 255.33 L546.69 255.34 L546.79 255.37 L546.92 255.41 L547.07 255.46 L547.16 255.49 L547.28 255.53 L547.54 255.62 L547.83 255.74 L548.13 255.85 L548.17 255.87 L548.53 256.01 L548.90 256.16 L549.09 256.23 L549.29 256.31 L549.66 256.45 L550.03 256.59 L550.05 256.60 L550.38 256.72 L550.72 256.85 L551.02 256.96 L551.06 256.97 L551.41 257.10 L551.77 257.22 L551.98 257.30 L552.15 257.35 L552.56 257.48 L552.94 257.60 L553.01 257.62 L553.51 257.77 L553.91 257.88 L554.04 257.92 L554.61 258.08 L554.87 258.15 L555.20 258.24 L555.80 258.40 L555.83 258.41 L556.40 258.55 L556.80 258.64 L557.00 258.69 L557.58 258.82 L557.76 258.85 L558.17 258.93 L558.72 259.03 L558.78 259.04 L559.40 259.13 L559.69 259.17 L560.02 259.22 L560.62 259.30 L560.65 259.31 L561.19 259.38 L561.61 259.44 L561.71 259.45 L562.18 259.51 L562.58 259.57 L562.59 259.57 L562.97 259.62 L563.32 259.67 L563.54 259.70 L563.63 259.71 L563.90 259.74 L564.14 259.77 L564.34 259.79 L564.50 259.81 L565.47 260.88 L566.43 260.88 L567.39 260.88 L568.36 260.88 L569.32 260.88 L570.28 260.88 L571.25 260.88 L572.21 260.88 L573.17 260.88 L574.14 260.88 L575.10 260.88 L576.06 260.88 L577.03 260.88 L577.99 260.88 L578.95 260.88 L579.92 260.88 L580.88 260.88 L581.84 260.88 L582.81 260.88 L583.77 260.88 L584.73 260.88 L585.70 260.88 L586.66 260.88 L587.62 260.88 L588.59 260.88 L589.55 260.88 L590.51 260.88 L591.48 260.88 L592.44 260.88 L593.40 260.88 L594.37 260.88 L595.33 260.88 L596.29 260.88 L597.26 260.88 L598.22 260.88 L599.18 260.88 L600.15 260.88 L601.11 260.88 L602.07 260.88 L603.04 260.88 L604.00 260.88 L604.96 260.88 L605.93 260.88 L606.89 260.88 L607.85 260.88 L608.82 260.88 L609.78 260.88 L610.74 260.88 L611.70 260.88 L612.67 260.88 L613.63 260.88 L614.59 260.88 L615.56 260.88 L616.52 260.88 L617.48 260.88 L618.45 260.88 L619.41 260.88 L620.37 260.88 L621.34 260.88 L622.30 260.88 L623.26 260.88 L624.23 260.88 L625.19 260.88 L626.15 260.88 L627.12 260.88 L628.08 260.88 L629.04 260.88 L630.01 260.88 L630.97 260.88 L631.93 260.88 L632.90 260.88 L633.86 260.88 L634.82 260.88 L635.79 260.88 L636.75 260.88 L637.71 260.88 L638.68 260.88 L639.64 260.88 L640.60 260.88 L641.57 260.88 L642.53 260.88 L643.49 260.88 L644.46 260.88 L645.42 260.88 L646.38 260.88 L647.35 260.88 L648.31 260.88 L649.27 260.88 L650.24 260.88 L651.20 260.88 L652.16 260.88 L653.13 260.88 L654.09 260.88 L655.05 260.88 L656.02 260.88 L656.98 260.88 L657.94 260.88 L658.91 260.88 L659.87 260.88 L660.83 260.88 L661.80 260.88 L662.76 260.88 L663.72 260.88 L664.69 260.88 L665.65 260.88 L666.61 260.88 L667.58 260.88 L668.54 260.88 L669.50 260.88 L670.47 260.88 L671.43 260.88 L672.39 260.88 L673.36 260.88 L674.32 260.88 L675.28 260.88 L676.25 260.88 L677.21 260.88 L678.17 260.88 L679.14 260.88 L680.10 260.88 L681.06 260.88 L682.03 260.88 L682.99 260.88 L683.95 260.88 L684.92 260.88 L685.88 260.88 L686.84 260.88 L687.81 260.88 L688.77 260.88 L689.73 260.88 L690.70 260.88 L691.66 260.88 L692.62 260.88 L693.58 260.88 L694.55 260.88 L695.51 260.88 L696.47 260.88 L697.44 260.88 L698.40 260.88 L699.36 260.88 L700.33 260.88 L701.29 260.88 L702.25 260.88 L703.22 260.88 L704.18 260.88 L705.14 260.88 L706.11 260.88 L707.07 260.88 L708.03 260.88 L709.00 260.88 L709.96 260.88 L710.92 260.88 L711.89 260.88 L712.85 260.88 L713.81 260.88 L714.78 260.88 L715.74 260.88 L716.70 260.88 L717.67 260.88 L718.63 260.88 L719.59 260.88 L720.56 260.88 L721.52 260.88 L722.48 260.88 L723.45 260.86 L723.46 260.80 L723.47 260.72 L723.49 260.62 L723.51 260.50 L723.53 260.35 L723.55 260.18 L723.57 259.96 L723.59 259.70 L723.60 259.41 L723.62 259.08 L723.63 258.72 L723.65 258.33 L723.66 257.89 L723.67 257.42 L723.69 256.91 L723.70 256.35 L723.71 255.77 L723.73 255.17 L723.74 254.55 L723.75 253.88 L723.76 253.14 L723.77 252.33 L723.79 251.43 L723.81 250.42 L723.82 249.24 L723.85 247.88 L723.87 246.38 L723.89 244.83 L723.92 243.28 L723.94 241.80 L723.96 240.44 L723.98 239.27 L723.99 238.37 L724.00 237.72 L724.01 237.22 L724.01 236.77 L724.02 236.28 L724.02 235.65 L724.03 234.78 L724.04 233.58 L724.06 232.00 L724.08 230.14 L724.10 228.05 L724.12 225.81 L724.14 223.50 L724.17 221.18 L724.19 218.93 L724.21 216.83 L724.23 214.87 L724.25 212.98 L724.27 211.13 L724.29 209.29 L724.30 207.44 L724.32 205.53 L724.34 203.53 L724.36 201.42 L724.39 199.14 L724.41 196.72 L724.41 196.70 L724.43 194.15 L724.46 191.56 L724.48 188.98 L724.51 186.49 L724.53 184.14 L724.56 182.00 L724.58 180.02 L724.61 178.13 L724.63 176.35 L724.65 174.66 L724.68 173.09 L724.70 171.62 L724.72 170.27 L724.74 169.03 L724.76 167.94 L724.78 167.00 L724.80 166.19 L724.81 165.48 L724.83 164.86 L724.85 164.29 L724.86 163.76 L724.87 163.24 L724.89 162.73 L724.90 162.26 L724.91 161.84 L724.92 161.46 L724.92 161.16 L724.93 160.92 L724.94 160.78 L724.95 160.73 L724.96 160.78 L724.97 160.94 L724.98 161.19 L724.99 161.51 L725.00 161.89 L725.01 162.32 L725.03 162.77 L725.04 163.24 L725.06 163.73 L725.07 164.27 L725.09 164.84 L725.11 165.46 L725.13 166.11 L725.16 166.79 L725.18 167.51 L725.21 168.26 L725.23 168.93 L725.26 169.48 L725.29 170.00 L725.32 170.58 L725.35 171.33 L725.37 171.90 L725.39 172.33 L725.42 173.69 L725.46 175.50 L725.49 177.79 L725.52 180.50 L725.55 183.54 L725.59 186.85 L725.62 190.35 L725.66 193.98 L725.71 197.66 L725.75 201.32 L725.81 205.19 L725.88 209.42 L725.95 213.87 L726.03 218.36 L726.10 222.73 L726.17 226.83 L726.23 230.50 L726.28 233.58 L726.32 236.01 L726.34 237.08 L726.35 237.95 L726.37 239.49 L726.39 240.73 L726.41 241.79 L726.43 242.77 L726.44 243.77 L726.46 244.90 L726.49 246.11 L726.51 247.28 L726.53 248.40 L726.56 249.48 L726.58 250.50 L726.60 251.47 L726.63 252.37 L726.65 253.20 L726.67 253.96 L726.68 254.63 L726.70 255.23 L726.72 255.78 L726.73 256.29 L726.75 256.76 L726.77 257.21 L726.78 257.66 L726.80 258.09 L726.82 258.50 L726.84 258.88 L726.86 259.24 L726.88 259.56 L726.90 259.86 L726.92 260.13 L726.94 260.37 L726.96 260.59 L726.98 260.78 L727.00 260.95 L727.02 261.09 L727.04 261.20 L727.06 261.27 L727.08 261.31 L727.11 261.31 L727.13 261.27 L727.15 261.18 L727.17 261.06 L727.19 260.90 L727.22 260.72 L727.24 260.51 L727.26 260.28 L727.28 260.04 L727.30 259.83 L727.30 259.77 L727.32 259.48 L727.34 259.16 L727.36 258.83 L727.38 258.47 L727.41 258.11 L727.43 257.73 L727.45 257.36 L727.47 256.98 L727.50 256.58 L727.52 256.17 L727.55 255.76 L727.57 255.34 L727.60 254.91 L727.63 254.48 L727.65 254.04 L727.68 253.61 L727.71 253.17 L727.74 252.73 L727.77 252.29 L727.80 251.83 L727.83 251.37 L727.86 250.90 L727.89 250.42 L727.92 249.93 L727.94 249.41 L727.97 248.87 L728.00 248.34 L728.03 247.80 L728.05 247.27 L728.08 246.76 L728.11 246.27 L728.15 245.79 L728.18 245.31 L728.21 244.82 L728.25 244.36 L728.26 244.18 L728.29 243.91 L728.32 243.51 L728.36 243.15 L728.39 242.86 L728.43 242.61 L728.46 242.42 L728.49 242.27 L728.53 242.15 L728.56 242.08 L728.59 242.03 L728.63 242.01 L728.66 242.02 L728.70 242.04 L728.73 242.09 L728.76 242.16 L728.80 242.27 L728.83 242.41 L728.87 242.60 L728.90 242.83 L728.94 243.12 L728.98 243.48 L729.02 243.92 L729.06 244.41 L729.10 244.94 L729.14 245.49 L729.18 246.05 L729.22 246.60 L729.23 246.66 L729.26 247.11 L729.30 247.60 L729.33 248.09 L729.37 248.57 L729.40 249.06 L729.44 249.54 L729.47 250.03 L729.51 250.51 L729.54 250.99 L729.57 251.48 L729.60 251.97 L729.62 252.46 L729.65 252.96 L729.68 253.44 L729.71 253.93 L729.73 254.41 L729.76 254.88 L729.80 255.35 L729.83 255.83 L729.87 256.32 L729.90 256.79 L729.94 257.25 L729.98 257.69 L730.01 258.09 L730.04 258.46 L730.07 258.79 L730.10 259.09 L730.12 259.36 L730.15 259.60 L730.17 259.83 L730.19 259.98 L730.20 260.04 L730.22 260.24 L730.25 260.44 L730.27 260.63 L730.30 260.81 L730.32 260.97 L730.34 261.13 L730.37 261.27 L730.39 261.40 L730.42 261.53 L730.45 261.65 L730.48 261.76 L730.52 261.86 L730.56 261.95 L730.59 262.03 L730.63 262.11 L730.67 262.17 L730.71 262.23 L730.74 262.28 L730.78 262.33 L730.81 262.37 L730.84 262.40 L730.88 262.42 L730.91 262.44 L730.94 262.44 L730.98 262.42 L731.02 262.38 L731.07 262.32 L731.11 262.24 L731.15 262.16 L731.16 262.15 L731.21 262.03 L731.26 261.91 L731.31 261.79 L731.36 261.67 L731.41 261.54 L731.45 261.42 L731.50 261.29 L731.54 261.15 L731.58 261.01 L731.62 260.87 L731.66 260.74 L731.70 260.62 L731.74 260.51 L731.78 260.41 L731.82 260.32 L731.85 260.24 L731.89 260.16 L731.92 260.10 L731.95 260.04 L731.99 259.98 L732.02 259.94 L732.05 259.90 L732.08 259.87 L732.10 259.85 L732.12 259.84 L732.13 259.83 L732.16 259.82 L732.18 259.82 L732.21 259.83 L732.24 259.84 L732.27 259.85 L732.30 259.87 L732.33 259.89 L732.36 259.92 L732.39 259.96 L732.42 260.02 L732.45 260.09 L732.49 260.17 L732.53 260.28 L732.57 260.41 L732.61 260.55 L732.66 260.71 L732.71 260.87 L732.75 261.04 L732.80 261.21 L732.85 261.38 L732.90 261.54 L732.94 261.72 L732.99 261.89 L733.04 262.07 L733.08 262.22 L733.09 262.25 L733.14 262.43 L733.19 262.59 L733.24 262.75 L733.29 262.90 L733.34 263.04 L733.38 263.18 L733.43 263.32 L733.48 263.45 L733.53 263.57 L733.58 263.68 L733.62 263.79 L733.67 263.89 L733.71 263.98 L733.75 264.06 L733.79 264.13 L733.83 264.20 L733.88 264.27 L733.92 264.33 L733.96 264.39 L733.99 264.45 L734.02 264.49 L734.04 264.52 L734.05 264.54 L734.08 264.58 L734.12 264.61 L734.16 264.65 L734.22 264.69 L734.29 264.73 L734.38 264.77 L734.49 264.81 L734.60 264.85 L734.73 264.89 L734.87 264.93 L735.01 264.97 L735.01 264.97 L735.15 265.01 L735.29 265.06 L735.43 265.11 L735.58 265.17 L735.74 265.22 L735.91 265.28 L735.97 265.30 L736.07 265.34 L736.22 265.40 L736.37 265.46 L736.50 265.53 L736.63 265.60 L736.74 265.68 L736.85 265.76 L736.93 265.83 L736.95 265.84 L737.04 265.92 L737.14 266.00 L737.24 266.07 L737.34 266.13 L737.43 266.19 L737.53 266.24 L737.63 266.29 L737.72 266.34 L737.81 266.38 L737.90 266.41 L737.91 266.41 L738.01 266.44 L738.11 266.47 L738.22 266.49 L738.32 266.50 L738.43 266.51 L738.54 266.52 L738.66 266.52 L738.77 266.52 L738.86 266.51 L738.88 266.51 L739.00 266.50 L739.10 266.49 L739.19 266.48 L739.27 266.47 L739.35 266.45 L739.45 266.43 L739.57 266.39 L739.73 266.34 L739.82 266.31 L739.94 266.27 L740.19 266.17 L740.49 266.06 L740.79 265.94 L740.83 265.93 L741.19 265.78 L741.56 265.63 L741.75 265.56 L741.94 265.48 L742.32 265.33 L742.69 265.20 L742.71 265.19 L743.04 265.07 L743.38 264.94 L743.68 264.83 L743.72 264.81 L744.07 264.68 L744.43 264.56 L744.64 264.49 L744.81 264.43 L745.22 264.30 L745.60 264.18 L745.67 264.16 L746.17 264.01 L746.57 263.89 L746.70 263.86 L747.27 263.70 L747.53 263.62 L747.85 263.53 L748.45 263.37 L748.49 263.36 L749.06 263.22 L749.46 263.13 L749.66 263.08 L750.24 262.95 L750.42 262.92 L750.83 262.84 L751.38 262.74 L751.44 262.73 L752.06 262.63 L752.35 262.59 L752.68 262.54 L753.28 262.46 L753.31 262.46 L753.85 262.38 L754.27 262.33 L754.37 262.31 L754.84 262.25 L755.24 262.19 L755.25 262.19 L755.63 262.14 L755.98 262.09 L756.20 262.06 L756.29 262.05 L756.56 262.02 L756.80 261.99 L757.00 261.97 L757.16 261.95 L758.13 260.88 L759.09 260.88 L760.05 260.88 L761.02 260.88 L761.98 260.88 L762.94 260.88 L763.91 260.88 L764.87 260.88 L765.83 260.88 L766.80 260.88 L767.76 260.88 L768.72 260.88 L769.69 260.88 L770.65 260.88 L771.61 260.88 L772.58 260.88 L773.54 260.88 L774.50 260.88 L775.46 260.88 L776.43 260.88 L777.39 260.88 L778.35 260.88 L779.32 260.88 L780.28 260.88 L781.24 260.88 L782.21 260.88 L783.17 260.88 L784.13 260.88 L785.10 260.88 L786.06 260.88 L787.02 260.88 L787.99 260.88 L788.95 260.88 L789.91 260.88 L790.88 260.88 L791.84 260.88 L792.80 260.88 L793.77 260.88 L794.73 260.88 L795.69 260.88 L796.66 260.88 L797.62 260.88 L798.58 260.88 L799.55 260.88 L800.51 260.88 L801.47 260.88 L802.44 260.88 L803.40 260.88 L804.36 260.88 L805.33 260.88 L806.29 260.88 L807.25 260.88 L808.22 260.88 L809.18 260.88 L810.14 260.88 L811.11 260.88 L812.07 260.88 L813.03 260.88 L814.00 260.88 L814.96 260.88 L815.92 260.88 L816.89 260.88 L817.85 260.88 L818.81 260.88 L819.78 260.86 L819.79 260.76 L819.80 260.64 L819.82 260.49 L819.84 260.31 L819.86 260.09 L819.88 259.83 L819.90 259.51 L819.92 259.12 L819.93 258.68 L819.95 258.19 L819.96 257.65 L819.98 257.06 L819.99 256.42 L820.00 255.71 L820.02 254.95 L820.03 254.11 L820.04 253.24 L820.05 252.35 L820.07 251.41 L820.08 250.41 L820.09 249.31 L820.10 248.10 L820.12 246.75 L820.13 245.25 L820.15 243.48 L820.18 241.43 L820.20 239.20 L820.22 236.88 L820.25 234.56 L820.27 232.34 L820.29 230.31 L820.31 228.56 L820.32 227.22 L820.33 226.25 L820.33 225.50 L820.34 224.83 L820.35 224.09 L820.35 223.15 L820.36 221.85 L820.37 220.05 L820.39 217.69 L820.41 214.90 L820.43 211.78 L820.45 208.43 L820.47 204.97 L820.50 201.51 L820.52 198.15 L820.54 195.00 L820.56 192.06 L820.58 189.24 L820.60 186.47 L820.61 183.73 L820.63 180.95 L820.65 178.09 L820.67 175.11 L820.69 171.95 L820.72 168.54 L820.74 164.92 L820.74 164.89 L820.76 161.07 L820.79 157.20 L820.81 153.35 L820.84 149.62 L820.86 146.11 L820.89 142.90 L820.91 139.94 L820.94 137.12 L820.96 134.45 L820.98 131.93 L821.01 129.57 L821.03 127.38 L821.05 125.36 L821.07 123.51 L821.09 121.88 L821.11 120.48 L821.13 119.26 L821.14 118.20 L821.16 117.26 L821.18 116.42 L821.19 115.62 L821.20 114.85 L821.22 114.09 L821.23 113.38 L821.24 112.75 L821.25 112.19 L821.25 111.73 L821.26 111.38 L821.27 111.16 L821.28 111.09 L821.29 111.17 L821.30 111.41 L821.31 111.78 L821.32 112.26 L821.33 112.83 L821.34 113.47 L821.35 114.14 L821.37 114.85 L821.39 115.58 L821.40 116.38 L821.42 117.24 L821.44 118.16 L821.46 119.13 L821.49 120.16 L821.51 121.24 L821.54 122.36 L821.56 123.36 L821.59 124.18 L821.62 124.95 L821.65 125.83 L821.68 126.94 L821.70 127.80 L821.72 128.44 L821.75 130.47 L821.79 133.18 L821.82 136.61 L821.85 140.66 L821.88 145.21 L821.92 150.15 L821.95 155.39 L821.99 160.82 L822.04 166.33 L822.08 171.80 L822.14 177.59 L822.21 183.92 L822.28 190.57 L822.35 197.28 L822.43 203.83 L822.50 209.96 L822.56 215.45 L822.61 220.05 L822.65 223.69 L822.67 225.29 L822.68 226.59 L822.70 228.89 L822.72 230.75 L822.74 232.34 L822.76 233.80 L822.77 235.29 L822.79 236.98 L822.82 238.79 L822.84 240.54 L822.86 242.22 L822.89 243.83 L822.91 245.36 L822.93 246.81 L822.96 248.16 L822.98 249.40 L823.00 250.53 L823.01 251.53 L823.03 252.44 L823.05 253.26 L823.06 254.01 L823.08 254.72 L823.10 255.40 L823.11 256.07 L823.13 256.72 L823.15 257.33 L823.17 257.89 L823.19 258.42 L823.21 258.91 L823.23 259.36 L823.25 259.76 L823.27 260.12 L823.29 260.45 L823.31 260.74 L823.33 260.99 L823.35 261.20 L823.37 261.36 L823.39 261.47 L823.41 261.53 L823.44 261.53 L823.46 261.46 L823.48 261.33 L823.50 261.15 L823.52 260.91 L823.55 260.64 L823.57 260.32 L823.59 259.98 L823.61 259.62 L823.63 259.30 L823.63 259.23 L823.65 258.79 L823.67 258.32 L823.69 257.81 L823.71 257.28 L823.73 256.73 L823.76 256.18 L823.78 255.61 L823.80 255.04 L823.83 254.45 L823.85 253.84 L823.88 253.22 L823.90 252.59 L823.93 251.95 L823.96 251.30 L823.98 250.66 L824.01 250.01 L824.04 249.35 L824.07 248.69 L824.10 248.03 L824.13 247.35 L824.16 246.66 L824.19 245.96 L824.22 245.25 L824.24 244.50 L824.27 243.72 L824.30 242.93 L824.33 242.12 L824.35 241.32 L824.38 240.53 L824.41 239.76 L824.44 239.03 L824.48 238.32 L824.51 237.59 L824.54 236.87 L824.58 236.17 L824.59 235.91 L824.61 235.51 L824.65 234.90 L824.69 234.37 L824.72 233.92 L824.75 233.56 L824.79 233.27 L824.82 233.04 L824.86 232.87 L824.89 232.76 L824.92 232.69 L824.96 232.66 L824.99 232.67 L825.03 232.71 L825.06 232.78 L825.09 232.89 L825.13 233.05 L825.16 233.26 L825.20 233.54 L825.23 233.89 L825.27 234.32 L825.31 234.86 L825.35 235.52 L825.39 236.25 L825.43 237.05 L825.47 237.87 L825.51 238.70 L825.55 239.52 L825.56 239.61 L825.59 240.29 L825.63 241.02 L825.66 241.75 L825.70 242.48 L825.73 243.20 L825.77 243.92 L825.80 244.65 L825.83 245.37 L825.87 246.10 L825.90 246.83 L825.93 247.56 L825.95 248.30 L825.98 249.03 L826.01 249.76 L826.03 250.49 L826.06 251.20 L826.09 251.91 L826.13 252.62 L826.16 253.34 L826.20 254.06 L826.23 254.77 L826.27 255.45 L826.31 256.11 L826.34 256.72 L826.37 257.27 L826.40 257.76 L826.43 258.20 L826.45 258.60 L826.48 258.97 L826.50 259.31 L826.52 259.54 L826.53 259.62 L826.55 259.93 L826.58 260.22 L826.60 260.51 L826.62 260.78 L826.65 261.02 L826.67 261.25 L826.70 261.46 L826.72 261.66 L826.75 261.85 L826.78 262.03 L826.81 262.19 L826.85 262.34 L826.88 262.48 L826.92 262.61 L826.96 262.72 L827.00 262.82 L827.04 262.90 L827.07 262.98 L827.11 263.05 L827.14 263.11 L827.17 263.16 L827.21 263.19 L827.24 263.21 L827.27 263.21 L827.31 263.18 L827.35 263.13 L827.39 263.04 L827.44 262.92 L827.48 262.80 L827.49 262.78 L827.54 262.61 L827.59 262.43 L827.64 262.24 L827.69 262.06 L827.74 261.88 L827.78 261.69 L827.83 261.49 L827.87 261.29 L827.91 261.08 L827.95 260.87 L827.99 260.67 L828.03 260.49 L828.07 260.32 L828.11 260.18 L828.15 260.05 L828.18 259.92 L828.22 259.81 L828.25 259.71 L828.28 259.62 L828.32 259.54 L828.35 259.47 L828.38 259.42 L828.41 259.37 L828.43 259.34 L828.45 259.33 L828.46 259.31 L828.49 259.30 L828.51 259.30 L828.54 259.30 L828.57 259.32 L828.60 259.34 L828.63 259.37 L828.66 259.40 L828.69 259.45 L828.72 259.51 L828.75 259.59 L828.78 259.69 L828.82 259.82 L828.86 259.98 L828.90 260.18 L828.94 260.39 L828.99 260.63 L829.04 260.87 L829.08 261.13 L829.13 261.38 L829.18 261.63 L829.23 261.87 L829.27 262.13 L829.32 262.40 L829.37 262.67 L829.41 262.88 L829.42 262.94 L829.47 263.20 L829.52 263.45 L829.57 263.68 L829.62 263.90 L829.66 264.12 L829.71 264.33 L829.76 264.53 L829.81 264.72 L829.86 264.90 L829.91 265.07 L829.95 265.23 L830.00 265.38 L830.04 265.51 L830.08 265.64 L830.12 265.75 L830.16 265.85 L830.20 265.95 L830.25 266.05 L830.29 266.14 L830.32 266.22 L830.35 266.29 L830.37 266.33 L830.38 266.35 L830.41 266.41 L830.45 266.47 L830.49 266.52 L830.55 266.58 L830.62 266.64 L830.71 266.70 L830.82 266.76 L830.93 266.82 L831.06 266.87 L831.20 266.93 L831.34 267.00 L831.34 267.00 L831.48 267.06 L831.62 267.14 L831.76 267.21 L831.91 267.29 L832.07 267.38 L832.24 267.46 L832.30 267.50 L832.40 267.55 L832.55 267.64 L832.70 267.74 L832.83 267.84 L832.96 267.94 L833.07 268.06 L833.18 268.18 L833.26 268.28 L833.28 268.30 L833.37 268.42 L833.47 268.54 L833.57 268.65 L833.66 268.74 L833.76 268.82 L833.86 268.90 L833.95 268.98 L834.05 269.04 L834.14 269.10 L834.23 269.15 L834.24 269.16 L834.34 269.20 L834.44 269.24 L834.55 269.27 L834.65 269.29 L834.76 269.31 L834.87 269.32 L834.98 269.32 L835.10 269.32 L835.19 269.31 L835.21 269.31 L835.33 269.29 L835.43 269.28 L835.52 269.26 L835.60 269.24 L835.68 269.22 L835.78 269.18 L835.90 269.13 L836.06 269.05 L836.15 269.00 L836.27 268.94 L836.52 268.80 L836.82 268.63 L837.12 268.45 L837.16 268.43 L837.52 268.21 L837.89 267.99 L838.08 267.88 L838.27 267.76 L838.65 267.54 L839.02 267.34 L839.04 267.33 L839.37 267.14 L839.71 266.95 L840.01 266.79 L840.05 266.76 L840.40 266.57 L840.76 266.38 L840.97 266.27 L841.14 266.19 L841.55 265.99 L841.93 265.82 L842.00 265.78 L842.49 265.57 L842.90 265.39 L843.03 265.33 L843.60 265.09 L843.86 264.98 L844.18 264.85 L844.78 264.61 L844.82 264.60 L845.39 264.38 L845.79 264.24 L845.99 264.17 L846.57 263.98 L846.75 263.93 L847.16 263.81 L847.71 263.67 L847.77 263.65 L848.39 263.50 L848.68 263.44 L849.01 263.37 L849.61 263.25 L849.64 263.24 L850.18 263.13 L850.60 263.05 L850.70 263.03 L851.17 262.93 L851.57 262.84 L851.58 262.84 L851.96 262.76 L852.31 262.70 L852.53 262.65 L852.62 262.64 L852.89 262.59 L853.13 262.54 L853.33 262.51 L853.49 262.48 L854.46 260.88 L855.42 260.88 L856.38 260.88 L857.34 260.88 L858.31 260.88 L859.27 260.88 L860.23 260.88 L861.20 260.88 L862.16 260.88 L863.12 260.88 L864.09 260.88 L865.05 260.88 L866.01 260.88 L866.98 260.88 L867.94 260.88 L868.90 260.88 L869.87 260.88 L870.83 260.88 L871.79 260.88 L872.76 260.88 L873.72 260.88 L874.68 260.88 L875.65 260.88 L876.61 260.88 L877.57 260.88 L878.54 260.88 L879.50 260.88 L880.46 260.88 L881.43 260.88 L882.39 260.88 L883.35 260.88 L884.32 260.88 L885.28 260.88 L886.24 260.88 L887.21 260.88 L888.17 260.88 L889.13 260.88 L890.10 260.88 L891.06 260.88 L892.02 260.88 L892.99 260.88 L893.95 260.88 L894.91 260.88 L895.88 260.88 L896.84 260.88 L897.80 260.88 L898.77 260.88 L899.73 260.88 L900.69 260.88 L901.66 260.88 L902.62 260.88 L903.58 260.88 L904.55 260.88 L905.51 260.88 L906.47 260.88 L907.44 260.88 L908.40 260.88 L909.36 260.88 L910.33 260.88 L911.29 260.88 L912.25 260.88 L913.22 260.88 L914.18 260.88 L915.14 260.88 L916.11 260.88 L917.07 260.88 L918.03 260.88 L919.00 260.88 L919.96 260.88 L920.92 260.88 L921.89 260.88 L922.85 260.88 L923.81 260.88 L924.78 260.88 L925.74 260.88 L926.70 260.88 L927.67 260.88 L928.63 260.88 L929.59 260.88 L930.56 260.88 L931.52 260.88 L932.48 260.88 L933.45 260.88 L934.41 260.88 L935.37 260.88 L936.34 260.88 L937.30 260.88 L938.26 260.88 L939.22 260.88 L940.19 260.88 L941.15 260.88 L942.11 260.88 L943.08 260.88 L944.04 260.88 L945.00 260.88 L945.97 260.88 L946.93 260.88 L947.89 260.88 L948.86 260.88 L949.82 260.88 L950.78 260.88 L951.75 260.88 L952.71 260.88 L953.67 260.88 L954.64 260.88 L955.60 260.88 L956.56 260.88 L957.53 260.88 L958.49 260.88 L959.45 260.88 L960.42 260.88 L961.38 260.88 L962.34 260.88 L963.31 260.88 L964.27 260.88 L965.23 260.88 L966.20 260.88 L967.16 260.88 L968.12 260.88 L969.09 260.88 L970.05 260.88 L971.01 260.88 L971.98 260.88 L972.94 260.88 L973.90 260.88 L974.87 260.88 L975.83 260.88 L976.79 260.88 L977.76 260.88 L978.72 260.88 L979.68 260.88 L980.65 260.88 L981.61 260.88 L982.57 260.88 L983.54 260.88 L984.50 260.88 L985.46 260.88 L986.43 260.88 L987.39 260.88 L988.35 260.88 L989.32 260.88 L990.28 260.88 L991.24 260.88 L992.21 260.88 L993.17 260.88 L994.13 260.88 L995.10 260.88 L996.06 260.88 L997.02 260.88 L997.99 260.88 L998.95 260.88 L999.91 260.88 L1000.88 260.88 L1001.84 260.88 L1002.80 260.88 L1003.77 260.88 L1004.73 260.88 L1005.69 260.88 L1006.66 260.88 L1007.62 260.88 L1008.58 260.88 L1009.55 260.88 L1010.51 260.88 L1011.47 260.88 L1012.44 260.89 L1012.44 260.99 L1012.46 261.11 L1012.48 261.26 L1012.50 261.44 L1012.52 261.66 L1012.54 261.92 L1012.56 262.24 L1012.58 262.63 L1012.59 263.07 L1012.61 263.56 L1012.62 264.10 L1012.64 264.69 L1012.65 265.33 L1012.66 266.04 L1012.67 266.80 L1012.69 267.64 L1012.70 268.51 L1012.71 269.40 L1012.73 270.34 L1012.74 271.34 L1012.75 272.44 L1012.76 273.65 L1012.78 275.00 L1012.79 276.50 L1012.81 278.27 L1012.83 280.32 L1012.86 282.55 L1012.88 284.87 L1012.91 287.19 L1012.93 289.41 L1012.95 291.44 L1012.97 293.19 L1012.98 294.53 L1012.99 295.50 L1012.99 296.25 L1013.00 296.92 L1013.00 297.66 L1013.01 298.60 L1013.02 299.90 L1013.03 301.70 L1013.05 304.06 L1013.07 306.85 L1013.09 309.97 L1013.11 313.32 L1013.13 316.78 L1013.15 320.24 L1013.18 323.60 L1013.20 326.75 L1013.22 329.69 L1013.24 332.51 L1013.25 335.28 L1013.27 338.02 L1013.29 340.80 L1013.31 343.66 L1013.33 346.64 L1013.35 349.80 L1013.38 353.21 L1013.40 356.83 L1013.40 356.86 L1013.42 360.68 L1013.45 364.55 L1013.47 368.40 L1013.50 372.13 L1013.52 375.64 L1013.55 378.85 L1013.57 381.81 L1013.59 384.63 L1013.62 387.30 L1013.64 389.82 L1013.67 392.18 L1013.69 394.37 L1013.71 396.39 L1013.73 398.24 L1013.75 399.87 L1013.77 401.27 L1013.79 402.49 L1013.80 403.55 L1013.82 404.49 L1013.83 405.33 L1013.85 406.13 L1013.86 406.90 L1013.87 407.66 L1013.89 408.37 L1013.89 409.00 L1013.90 409.56 L1013.91 410.02 L1013.92 410.37 L1013.93 410.59 L1013.94 410.66 L1013.95 410.58 L1013.96 410.34 L1013.97 409.97 L1013.98 409.49 L1013.99 408.92 L1014.00 408.28 L1014.01 407.61 L1014.03 406.90 L1014.04 406.17 L1014.06 405.37 L1014.08 404.51 L1014.10 403.59 L1014.12 402.62 L1014.15 401.59 L1014.17 400.51 L1014.19 399.39 L1014.22 398.39 L1014.25 397.57 L1014.28 396.80 L1014.31 395.92 L1014.34 394.81 L1014.36 393.95 L1014.38 393.31 L1014.41 391.28 L1014.44 388.57 L1014.48 385.14 L1014.51 381.09 L1014.54 376.54 L1014.58 371.60 L1014.61 366.36 L1014.65 360.93 L1014.69 355.42 L1014.74 349.95 L1014.80 344.16 L1014.87 337.83 L1014.94 331.18 L1015.01 324.47 L1015.09 317.92 L1015.16 311.79 L1015.22 306.30 L1015.27 301.70 L1015.31 298.06 L1015.33 296.46 L1015.34 295.16 L1015.36 292.86 L1015.38 291.00 L1015.40 289.41 L1015.41 287.95 L1015.43 286.46 L1015.45 284.77 L1015.47 282.96 L1015.50 281.21 L1015.52 279.53 L1015.55 277.92 L1015.57 276.39 L1015.59 274.94 L1015.61 273.59 L1015.63 272.35 L1015.65 271.22 L1015.67 270.22 L1015.69 269.31 L1015.71 268.49 L1015.72 267.74 L1015.74 267.03 L1015.76 266.35 L1015.77 265.68 L1015.79 265.03 L1015.81 264.42 L1015.83 263.86 L1015.85 263.33 L1015.87 262.84 L1015.89 262.39 L1015.91 261.99 L1015.93 261.63 L1015.95 261.30 L1015.97 261.01 L1015.99 260.76 L1016.01 260.55 L1016.03 260.39 L1016.05 260.28 L1016.07 260.22 L1016.09 260.22 L1016.12 260.29 L1016.14 260.42 L1016.16 260.60 L1016.18 260.84 L1016.21 261.11 L1016.23 261.43 L1016.25 261.77 L1016.27 262.13 L1016.29 262.45 L1016.29 262.52 L1016.31 262.96 L1016.33 263.43 L1016.35 263.94 L1016.37 264.47 L1016.39 265.02 L1016.42 265.57 L1016.44 266.14 L1016.46 266.71 L1016.49 267.30 L1016.51 267.91 L1016.54 268.53 L1016.56 269.16 L1016.59 269.80 L1016.62 270.45 L1016.64 271.09 L1016.67 271.74 L1016.70 272.40 L1016.73 273.06 L1016.76 273.72 L1016.79 274.40 L1016.82 275.09 L1016.85 275.79 L1016.88 276.50 L1016.90 277.25 L1016.93 278.03 L1016.96 278.82 L1016.99 279.63 L1017.01 280.43 L1017.04 281.22 L1017.07 281.99 L1017.10 282.72 L1017.13 283.43 L1017.17 284.16 L1017.20 284.88 L1017.24 285.58 L1017.25 285.84 L1017.27 286.24 L1017.31 286.85 L1017.34 287.38 L1017.38 287.83 L1017.41 288.19 L1017.45 288.48 L1017.48 288.71 L1017.51 288.88 L1017.55 288.99 L1017.58 289.06 L1017.62 289.09 L1017.65 289.08 L1017.68 289.04 L1017.72 288.97 L1017.75 288.86 L1017.79 288.70 L1017.82 288.49 L1017.85 288.21 L1017.89 287.86 L1017.93 287.43 L1017.97 286.89 L1018.01 286.23 L1018.05 285.50 L1018.09 284.70 L1018.13 283.88 L1018.17 283.05 L1018.21 282.23 L1018.22 282.14 L1018.25 281.46 L1018.29 280.73 L1018.32 280.00 L1018.36 279.27 L1018.39 278.55 L1018.43 277.83 L1018.46 277.10 L1018.49 276.38 L1018.53 275.65 L1018.56 274.92 L1018.58 274.19 L1018.61 273.45 L1018.64 272.72 L1018.67 271.99 L1018.69 271.26 L1018.72 270.55 L1018.75 269.84 L1018.79 269.13 L1018.82 268.41 L1018.86 267.69 L1018.89 266.98 L1018.93 266.30 L1018.96 265.64 L1019.00 265.03 L1019.03 264.48 L1019.06 263.99 L1019.09 263.55 L1019.11 263.15 L1019.14 262.78 L1019.16 262.44 L1019.18 262.21 L1019.18 262.13 L1019.21 261.82 L1019.23 261.53 L1019.26 261.24 L1019.28 260.97 L1019.31 260.73 L1019.33 260.50 L1019.36 260.29 L1019.38 260.09 L1019.41 259.90 L1019.44 259.72 L1019.47 259.56 L1019.51 259.41 L1019.54 259.27 L1019.58 259.14 L1019.62 259.03 L1019.66 258.93 L1019.70 258.85 L1019.73 258.77 L1019.77 258.70 L1019.80 258.64 L1019.83 258.59 L1019.87 258.56 L1019.90 258.54 L1019.93 258.54 L1019.97 258.57 L1020.01 258.62 L1020.05 258.71 L1020.10 258.83 L1020.14 258.95 L1020.15 258.97 L1020.20 259.14 L1020.25 259.32 L1020.30 259.51 L1020.35 259.69 L1020.40 259.87 L1020.44 260.06 L1020.49 260.26 L1020.53 260.46 L1020.57 260.67 L1020.61 260.88 L1020.65 261.08 L1020.69 261.26 L1020.73 261.43 L1020.77 261.57 L1020.80 261.70 L1020.84 261.83 L1020.88 261.94 L1020.91 262.04 L1020.94 262.13 L1020.98 262.21 L1021.01 262.28 L1021.04 262.33 L1021.07 262.38 L1021.09 262.41 L1021.10 262.42 L1021.12 262.44 L1021.15 262.45 L1021.17 262.45 L1021.20 262.45 L1021.23 262.43 L1021.26 262.41 L1021.29 262.38 L1021.31 262.35 L1021.34 262.30 L1021.37 262.24 L1021.41 262.16 L1021.44 262.06 L1021.48 261.93 L1021.52 261.77 L1021.56 261.57 L1021.60 261.36 L1021.65 261.12 L1021.70 260.88 L1021.74 260.62 L1021.79 260.37 L1021.84 260.12 L1021.88 259.88 L1021.93 259.62 L1021.98 259.35 L1022.03 259.08 L1022.07 258.87 L1022.08 258.81 L1022.13 258.55 L1022.18 258.30 L1022.23 258.07 L1022.27 257.85 L1022.32 257.63 L1022.37 257.42 L1022.42 257.22 L1022.47 257.03 L1022.52 256.85 L1022.57 256.68 L1022.61 256.52 L1022.66 256.37 L1022.70 256.24 L1022.74 256.11 L1022.78 256.00 L1022.82 255.90 L1022.86 255.80 L1022.90 255.70 L1022.95 255.61 L1022.98 255.53 L1023.01 255.46 L1023.03 255.42 L1023.04 255.40 L1023.07 255.34 L1023.10 255.28 L1023.15 255.23 L1023.20 255.17 L1023.28 255.11 L1023.37 255.05 L1023.47 254.99 L1023.59 254.93 L1023.72 254.88 L1023.86 254.82 L1023.99 254.75 L1023.99 254.75 L1024.13 254.69 L1024.27 254.61 L1024.42 254.54 L1024.57 254.46 L1024.73 254.37 L1024.89 254.29 L1024.96 254.25 L1025.05 254.20 L1025.21 254.11 L1025.36 254.01 L1025.49 253.91 L1025.62 253.81 L1025.73 253.69 L1025.84 253.57 L1025.92 253.47 L1025.94 253.45 L1026.03 253.33 L1026.13 253.21 L1026.22 253.10 L1026.32 253.01 L1026.42 252.93 L1026.52 252.85 L1026.61 252.77 L1026.71 252.71 L1026.80 252.65 L1026.88 252.60 L1026.90 252.59 L1027.00 252.55 L1027.10 252.51 L1027.20 252.48 L1027.31 252.46 L1027.42 252.44 L1027.53 252.43 L1027.64 252.43 L1027.76 252.43 L1027.85 252.44 L1027.87 252.44 L1027.98 252.46 L1028.09 252.47 L1028.17 252.49 L1028.25 252.51 L1028.34 252.53 L1028.44 252.57 L1028.56 252.62 L1028.72 252.70 L1028.81 252.75 L1028.93 252.81 L1029.18 252.95 L1029.48 253.12 L1029.77 253.30 L1029.82 253.32 L1030.18 253.54 L1030.55 253.76 L1030.74 253.87 L1030.93 253.99 L1031.31 254.21 L1031.68 254.41 L1031.70 254.42 L1032.03 254.61 L1032.37 254.80 L1032.66 254.96 L1032.71 254.99 L1033.06 255.18 L1033.41 255.37 L1033.63 255.48 L1033.80 255.56 L1034.21 255.76 L1034.59 255.93 L1034.66 255.97 L1035.15 256.18 L1035.55 256.36 L1035.69 256.42 L1036.25 256.66 L1036.52 256.77 L1036.84 256.90 L1037.44 257.14 L1037.48 257.15 L1038.05 257.37 L1038.44 257.51 L1038.64 257.58 L1039.23 257.77 L1039.41 257.82 L1039.82 257.94 L1040.37 258.08 L1040.43 258.10 L1041.05 258.25 L1041.33 258.31 L1041.67 258.38 L1042.27 258.50 L1042.30 258.51 L1042.83 258.62 L1043.26 258.70 L1043.36 258.72 L1043.82 258.82 L1044.22 258.91 L1044.24 258.91 L1044.62 258.99 L1044.97 259.05 L1045.19 259.10 L1045.27 259.11 L1045.55 259.16 L1045.79 259.21 L1045.99 259.24 L1046.15 259.27 L1047.11 260.88 L1048.08 260.88 L1049.04 260.88 L1050.00 260.88 L1050.97 260.88 L1051.93 260.88 L1052.89 260.88 L1053.86 260.88 L1054.82 260.88 L1055.78 260.88 L1056.75 260.88 L1057.71 260.88 L1058.67 260.88 L1059.64 260.88 L1060.60 260.88 L1061.56 260.88 L1062.53 260.88 L1063.49 260.88 L1064.45 260.88 L1065.42 260.88 L1066.38 260.88 L1067.34 260.88 L1068.31 260.88 L1069.27 260.88 L1070.23 260.88 L1071.20 260.88 L1072.16 260.88 L1073.12 260.88 L1074.09 260.88 L1075.05 260.88 L1076.01 260.88 L1076.98 260.88 L1077.94 260.88 L1078.90 260.88 L1079.87 260.88 L1080.83 260.88 L1081.79 260.88 L1082.76 260.88 L1083.72 260.88 L1084.68 260.88 L1085.65 260.88 L1086.61 260.88 L1087.57 260.88 L1088.54 260.88 L1089.50 260.88 L1090.46 260.88 L1091.43 260.88 L1092.39 260.88 L1093.35 260.88 L1094.32 260.88 L1095.28 260.88 L1096.24 260.88 L1097.21 260.88 L1098.17 260.88 L1099.13 260.88 L1100.10 260.88 L1101.06 260.88 L1102.02 260.88 L1102.98 260.88 L1103.95 260.88 L1104.91 260.88 L1105.87 260.88 L1106.84 260.88 L1107.80 260.88 L1108.76 260.88" stroke="#0000ff" stroke-width="6.5" stroke-dasharray="5.88 5.88" stroke-dashoffset="0.00"/>
</g>
</g>
<text transform="translate(123.65 514.50) scale(0.835 1)" font-family='"Liberation Sans", sans-serif' font-size="30" font-weight="bold" text-anchor="middle" fill="#1f1f1f" stroke="#1f1f1f" stroke-width="0.45">0</text>
<text transform="translate(287.41 514.50) scale(0.835 1)" font-family='"Liberation Sans", sans-serif' font-size="30" font-weight="bold" text-anchor="middle" fill="#1f1f1f" stroke="#1f1f1f" stroke-width="0.45">20</text>
<text transform="translate(451.17 514.50) scale(0.835 1)" font-family='"Liberation Sans", sans-serif' font-size="30" font-weight="bold" text-anchor="middle" fill="#1f1f1f" stroke="#1f1f1f" stroke-width="0.45">40</text>
<text transform="translate(614.93 514.50) scale(0.835 1)" font-family='"Liberation Sans", sans-serif' font-size="30" font-weight="bold" text-anchor="middle" fill="#1f1f1f" stroke="#1f1f1f" stroke-width="0.45">60</text>
<text transform="translate(778.69 514.50) scale(0.835 1)" font-family='"Liberation Sans", sans-serif' font-size="30" font-weight="bold" text-anchor="middle" fill="#1f1f1f" stroke="#1f1f1f" stroke-width="0.45">80</text>
<text transform="translate(942.45 514.50) scale(0.835 1)" font-family='"Liberation Sans", sans-serif' font-size="30" font-weight="bold" text-anchor="middle" fill="#1f1f1f" stroke="#1f1f1f" stroke-width="0.45">100</text>
<text transform="translate(113.80 485.20) scale(0.835 1)" font-family='"Liberation Sans", sans-serif' font-size="30" font-weight="bold" text-anchor="end" fill="#1f1f1f" stroke="#1f1f1f" stroke-width="0.45">59.9</text>
<text transform="translate(113.80 379.04) scale(0.835 1)" font-family='"Liberation Sans", sans-serif' font-size="30" font-weight="bold" text-anchor="end" fill="#1f1f1f" stroke="#1f1f1f" stroke-width="0.45">59.95</text>
<text transform="translate(113.80 272.88) scale(0.835 1)" font-family='"Liberation Sans", sans-serif' font-size="30" font-weight="bold" text-anchor="end" fill="#1f1f1f" stroke="#1f1f1f" stroke-width="0.45">60</text>
<text transform="translate(113.80 166.71) scale(0.835 1)" font-family='"Liberation Sans", sans-serif' font-size="30" font-weight="bold" text-anchor="end" fill="#1f1f1f" stroke="#1f1f1f" stroke-width="0.45">60.05</text>
<text transform="translate(113.80 60.55) scale(0.835 1)" font-family='"Liberation Sans", sans-serif' font-size="30" font-weight="bold" text-anchor="end" fill="#1f1f1f" stroke="#1f1f1f" stroke-width="0.45">60.1</text>
<text transform="translate(532.50 32.40) scale(0.858 1)" font-family='"Liberation Serif", serif' font-size="39" font-weight="bold" text-anchor="middle" fill="#000" word-spacing="3" stroke="#000" stroke-width="0.45">CASE-1 AREA-1</text>
<text transform="translate(533.10 556.50) scale(0.85 1)" font-family='"Liberation Serif", serif' font-size="35.5" font-weight="bold" text-anchor="middle" fill="#111" stroke="#111" stroke-width="0.45">Time</text>
<text transform="translate(26.80 261.70) rotate(-90) scale(1 0.9)" font-family='"Liberation Serif", serif' font-size="35.5" font-weight="bold" text-anchor="middle" fill="#111" stroke="#111" stroke-width="0.3">Frequency</text>
<text transform="translate(33.00 550.00) scale(1.01 1)" font-family='"Liberation Serif", serif' font-size="32" font-weight="normal" text-anchor="middle" fill="#111">(a)</text>
<rect x="558.3" y="333.2" width="152.3" height="98.6" fill="#fff" stroke="#0a0a0a" stroke-width="1.35"/>
<line x1="563.2" y1="359.1" x2="614" y2="359.1" stroke="#ff0000" stroke-width="6.5"/>
<line x1="563.2" y1="405.8" x2="614" y2="405.8" stroke="#0000ff" stroke-width="6.5" stroke-dasharray="5.1 5.1"/>
<text transform="translate(618.00 372.70) scale(0.86 1)" font-family='"Liberation Serif", serif' font-size="38.5" font-weight="bold" text-anchor="start" fill="#000" stroke="#000" stroke-width="0.45">case a</text>
<text transform="translate(618.00 419.30) scale(0.86 1)" font-family='"Liberation Serif", serif' font-size="38.5" font-weight="bold" text-anchor="start" fill="#000" stroke="#000" stroke-width="0.45">case b</text>
<line x1="324.23" y1="665.50" x2="324.23" y2="1102.90" stroke="#262626" stroke-opacity="0.19" stroke-width="1.3"/>
<line x1="498.17" y1="665.50" x2="498.17" y2="1102.90" stroke="#262626" stroke-opacity="0.19" stroke-width="1.3"/>
<line x1="672.10" y1="665.50" x2="672.10" y2="1102.90" stroke="#262626" stroke-opacity="0.19" stroke-width="1.3"/>
<line x1="846.03" y1="665.50" x2="846.03" y2="1102.90" stroke="#262626" stroke-opacity="0.19" stroke-width="1.3"/>
<line x1="150.30" y1="1030.50" x2="933.00" y2="1030.50" stroke="#262626" stroke-opacity="0.19" stroke-width="1"/>
<line x1="150.30" y1="957.50" x2="933.00" y2="957.50" stroke="#262626" stroke-opacity="0.19" stroke-width="1"/>
<line x1="150.30" y1="884.50" x2="933.00" y2="884.50" stroke="#262626" stroke-opacity="0.19" stroke-width="1"/>
<line x1="150.30" y1="811.50" x2="933.00" y2="811.50" stroke="#262626" stroke-opacity="0.19" stroke-width="1"/>
<line x1="150.30" y1="738.50" x2="933.00" y2="738.50" stroke="#262626" stroke-opacity="0.19" stroke-width="1"/>
<clipPath id="c2"><rect x="150.3" y="665.5" width="782.7" height="437.4000000000001"/></clipPath>
<line x1="324.23" y1="1102.90" x2="324.23" y2="1094.90" stroke="#262626" stroke-width="1.1475"/>
<line x1="324.23" y1="665.50" x2="324.23" y2="673.50" stroke="#262626" stroke-width="1.1475"/>
<line x1="498.17" y1="1102.90" x2="498.17" y2="1094.90" stroke="#262626" stroke-width="1.1475"/>
<line x1="498.17" y1="665.50" x2="498.17" y2="673.50" stroke="#262626" stroke-width="1.1475"/>
<line x1="672.10" y1="1102.90" x2="672.10" y2="1094.90" stroke="#262626" stroke-width="1.1475"/>
<line x1="672.10" y1="665.50" x2="672.10" y2="673.50" stroke="#262626" stroke-width="1.1475"/>
<line x1="846.03" y1="1102.90" x2="846.03" y2="1094.90" stroke="#262626" stroke-width="1.1475"/>
<line x1="846.03" y1="665.50" x2="846.03" y2="673.50" stroke="#262626" stroke-width="1.1475"/>
<line x1="150.30" y1="1030.00" x2="159.30" y2="1030.00" stroke="#262626" stroke-width="1.0625"/>
<line x1="933.00" y1="1030.00" x2="924.00" y2="1030.00" stroke="#262626" stroke-width="1.0625"/>
<line x1="150.30" y1="957.10" x2="159.30" y2="957.10" stroke="#262626" stroke-width="1.0625"/>
<line x1="933.00" y1="957.10" x2="924.00" y2="957.10" stroke="#262626" stroke-width="1.0625"/>
<line x1="150.30" y1="884.20" x2="159.30" y2="884.20" stroke="#262626" stroke-width="1.0625"/>
<line x1="933.00" y1="884.20" x2="924.00" y2="884.20" stroke="#262626" stroke-width="1.0625"/>
<line x1="150.30" y1="811.30" x2="159.30" y2="811.30" stroke="#262626" stroke-width="1.0625"/>
<line x1="933.00" y1="811.30" x2="924.00" y2="811.30" stroke="#262626" stroke-width="1.0625"/>
<line x1="150.30" y1="738.40" x2="159.30" y2="738.40" stroke="#262626" stroke-width="1.0625"/>
<line x1="933.00" y1="738.40" x2="924.00" y2="738.40" stroke="#262626" stroke-width="1.0625"/>
<line x1="149.62" y1="665.50" x2="933.67" y2="665.50" stroke="#262626" stroke-width="1.25"/>
<line x1="149.62" y1="1102.90" x2="933.67" y2="1102.90" stroke="#262626" stroke-width="1.25"/>
<line x1="150.30" y1="665.50" x2="150.30" y2="1102.90" stroke="#262626" stroke-width="1.35"/>
<line x1="933.00" y1="665.50" x2="933.00" y2="1102.90" stroke="#262626" stroke-width="1.35"/>
<g clip-path="url(#c2)">
<g transform="scale(1.15 1)" fill="none" stroke-linejoin="round">
<path d="M130.70 738.50 L281.91 738.50 L282.07 738.73 L282.28 738.98 L282.53 739.27 L282.80 739.62 L283.09 740.06 L283.38 740.59 L283.66 741.23 L283.91 742.00 L284.14 742.89 L284.36 743.86 L284.58 744.94 L284.79 746.11 L285.00 747.40 L285.21 748.81 L285.43 750.34 L285.65 752.00 L285.88 753.74 L286.10 755.52 L286.31 757.39 L286.54 759.39 L286.77 761.58 L287.02 764.00 L287.28 766.69 L287.57 769.70 L287.89 773.23 L288.26 777.31 L288.65 781.76 L289.05 786.39 L289.44 791.02 L289.82 795.46 L290.15 799.51 L290.43 803.00 L290.64 805.67 L290.77 807.58 L290.86 809.03 L290.92 810.33 L291.00 811.78 L291.12 813.67 L291.29 816.31 L291.57 820.00 L291.93 824.80 L292.37 830.45 L292.87 836.76 L293.41 843.56 L293.97 850.67 L294.54 857.90 L295.11 865.07 L295.65 872.00 L296.20 878.96 L296.76 886.23 L297.34 893.67 L297.92 901.12 L298.49 908.44 L299.03 915.45 L299.54 922.03 L300.00 928.00 L300.42 933.42 L300.80 938.45 L301.15 943.11 L301.47 947.44 L301.78 951.46 L302.06 955.21 L302.34 958.71 L302.61 962.00 L302.86 965.13 L303.09 968.10 L303.30 970.85 L303.49 973.31 L303.68 975.42 L303.87 977.12 L304.06 978.33 L304.26 979.00 L304.47 978.98 L304.67 978.27 L304.88 977.01 L305.08 975.38 L305.29 973.50 L305.49 971.55 L305.70 969.66 L305.91 968.00 L306.09 966.78 L306.23 965.95 L306.35 965.25 L306.48 964.44 L306.65 963.26 L306.88 961.46 L307.21 958.79 L307.65 955.00 L308.24 950.03 L308.95 944.11 L309.75 937.38 L310.61 930.00 L311.52 922.12 L312.43 913.89 L313.33 905.47 L314.17 897.00 L315.01 887.99 L315.88 878.08 L316.75 867.63 L317.63 857.00 L318.47 846.56 L319.28 836.67 L320.03 827.70 L320.70 820.00 L321.29 813.57 L321.84 808.05 L322.33 803.31 L322.78 799.19 L323.19 795.54 L323.55 792.23 L323.88 789.09 L324.17 786.00 L324.40 783.15 L324.55 780.76 L324.64 778.73 L324.70 776.94 L324.76 775.28 L324.83 773.65 L324.94 771.92 L325.13 770.00 L325.38 767.87 L325.67 765.65 L326.00 763.38 L326.35 761.11 L326.71 758.88 L327.09 756.76 L327.46 754.78 L327.83 753.00 L328.19 751.40 L328.55 749.94 L328.92 748.60 L329.30 747.37 L329.68 746.24 L330.07 745.19 L330.47 744.21 L330.87 743.30 L331.29 742.46 L331.73 741.72 L332.18 741.06 L332.64 740.48 L333.09 739.97 L333.53 739.53 L333.95 739.14 L334.35 738.80 L334.71 738.52 L335.04 738.32 L335.35 738.18 L335.65 738.11 L335.95 738.08 L336.26 738.09 L336.59 738.13 L336.96 738.20 L337.35 738.28 L337.75 738.37 L338.18 738.49 L338.61 738.66 L339.06 738.88 L339.51 739.16 L339.97 739.53 L340.43 740.00 L340.91 740.60 L341.39 741.34 L341.89 742.18 L342.39 743.08 L342.89 744.00 L343.39 744.91 L343.88 745.75 L344.35 746.50 L344.81 747.17 L345.27 747.82 L345.72 748.43 L346.17 749.01 L346.60 749.56 L347.03 750.08 L347.44 750.56 L347.83 751.00 L348.19 751.40 L348.54 751.76 L348.87 752.09 L349.18 752.38 L349.49 752.64 L349.80 752.87 L350.11 753.09 L350.43 753.30 L350.75 753.50 L351.07 753.68 L351.37 753.85 L351.68 754.00 L352.00 754.11 L352.33 754.19 L352.68 754.22 L353.04 754.20 L353.43 754.13 L353.83 754.04 L354.25 753.90 L354.67 753.72 L355.12 753.49 L355.57 753.22 L356.04 752.89 L356.52 752.50 L357.02 752.04 L357.55 751.51 L358.09 750.91 L358.64 750.27 L359.20 749.59 L359.76 748.90 L360.32 748.20 L360.87 747.50 L361.41 746.79 L361.96 746.06 L362.50 745.30 L363.04 744.53 L363.59 743.76 L364.13 742.99 L364.67 742.23 L365.22 741.50 L365.76 740.78 L366.29 740.05 L366.83 739.33 L367.36 738.61 L367.90 737.92 L368.45 737.24 L369.00 736.60 L369.57 736.00 L370.14 735.43 L370.73 734.88 L371.33 734.35 L371.94 733.86 L372.55 733.39 L373.15 732.96 L373.76 732.56 L374.35 732.20 L374.93 731.88 L375.51 731.58 L376.09 731.32 L376.67 731.09 L377.24 730.90 L377.81 730.75 L378.39 730.65 L378.96 730.60 L379.52 730.60 L380.09 730.66 L380.65 730.76 L381.21 730.90 L381.77 731.08 L382.33 731.29 L382.90 731.54 L383.48 731.80 L384.02 732.08 L384.52 732.36 L385.00 732.67 L385.50 733.02 L386.04 733.41 L386.66 733.86 L387.39 734.39 L388.26 735.00 L389.32 735.75 L390.54 736.64 L391.89 737.63 L393.32 738.66 L394.76 739.70 L396.17 740.68 L397.50 741.57 L398.70 742.30 L399.76 742.89 L400.75 743.38 L401.67 743.80 L402.55 744.15 L403.42 744.46 L404.28 744.74 L405.16 745.02 L406.09 745.30 L406.98 745.58 L407.81 745.83 L408.61 746.05 L409.43 746.26 L410.32 746.45 L411.33 746.63 L412.52 746.82 L413.91 747.00 L415.56 747.19 L417.44 747.38 L419.48 747.57 L421.64 747.74 L423.87 747.91 L426.11 748.06 L428.32 748.19 L430.43 748.30 L432.45 748.39 L434.42 748.46 L436.37 748.51 L438.33 748.54 L440.32 748.56 L442.37 748.56 L444.52 748.54 L446.78 748.50 L449.23 748.43 L451.85 748.34 L454.58 748.23 L457.36 748.09 L460.14 747.95 L462.85 747.80 L465.43 747.65 L467.83 747.50 L469.88 747.36 L471.58 747.23 L473.09 747.10 L474.56 746.97 L476.15 746.82 L478.02 746.64 L480.33 746.44 L483.22 746.20 L486.68 745.92 L490.56 745.61 L494.80 745.27 L499.36 744.91 L504.17 744.52 L509.19 744.13 L514.37 743.72 L519.65 743.30 L525.20 742.86 L531.14 742.38 L537.35 741.88 L543.71 741.37 L550.10 740.87 L556.40 740.38 L562.49 739.92 L568.26 739.50 L573.83 739.11 L579.37 738.75 L584.83 738.40 L590.13 738.07 L595.23 737.76 L600.06 737.48 L604.57 737.23 L608.70 737.00 L612.35 736.81 L615.54 736.65 L618.39 736.52 L620.98 736.41 L623.42 736.32 L625.82 736.25 L628.26 736.17 L630.87 736.10 L633.62 736.03 L636.41 735.97 L639.22 735.93 L641.99 735.89 L644.71 735.86 L647.34 735.83 L649.84 735.81 L652.17 735.80 L654.16 735.79 L655.76 735.78 L657.13 735.77 L658.46 735.77 L659.92 735.79 L661.67 735.81 L663.90 735.85 L666.78 735.90 L670.40 735.97 L674.63 736.07 L679.33 736.17 L684.33 736.29 L689.48 736.42 L694.64 736.55 L699.65 736.68 L704.35 736.80 L708.74 736.92 L712.96 737.05 L717.08 737.18 L721.17 737.31 L725.32 737.44 L729.59 737.56 L734.05 737.68 L738.78 737.80 L743.91 737.91 L749.43 738.03 L755.19 738.14 L761.05 738.25 L766.87 738.35 L772.50 738.45 L777.79 738.53 L782.61 738.60 L787.12 738.66 L791.52 738.70 L795.74 738.73 L799.70 738.75 L803.31 738.77 L806.50 738.78 L809.19 738.79 L811.30 738.80" stroke="#ff0000" stroke-width="7.0"/>
<path d="M281.91 738.50 L282.09 738.73 L282.33 738.98 L282.62 739.27 L282.93 739.62 L283.26 740.06 L283.59 740.59 L283.90 741.23 L284.17 742.00 L284.42 742.89 L284.65 743.86 L284.87 744.94 L285.08 746.11 L285.29 747.40 L285.50 748.81 L285.70 750.34 L285.91 752.00 L286.12 753.74 L286.31 755.52 L286.49 757.39 L286.68 759.39 L286.87 761.58 L287.08 764.00 L287.31 766.69 L287.57 769.70 L287.86 773.23 L288.20 777.31 L288.57 781.76 L288.95 786.39 L289.33 791.02 L289.68 795.46 L290.00 799.51 L290.26 803.00 L290.46 805.68 L290.60 807.62 L290.70 809.12 L290.79 810.46 L290.87 811.92 L290.97 813.81 L291.11 816.41 L291.30 820.00 L291.56 824.70 L291.85 830.27 L292.18 836.51 L292.52 843.19 L292.88 850.09 L293.24 857.01 L293.58 863.72 L293.91 870.00 L294.22 875.86 L294.52 881.50 L294.81 887.02 L295.10 892.50 L295.40 898.05 L295.70 903.75 L296.02 909.70 L296.35 916.00 L296.70 922.81 L297.07 930.11 L297.45 937.72 L297.84 945.46 L298.24 953.14 L298.63 960.58 L299.02 967.59 L299.39 974.00 L299.76 979.91 L300.14 985.53 L300.51 990.87 L300.89 995.89 L301.25 1000.60 L301.60 1004.98 L301.94 1009.02 L302.26 1012.70 L302.57 1015.95 L302.86 1018.76 L303.14 1021.19 L303.41 1023.30 L303.66 1025.17 L303.91 1026.87 L304.13 1028.45 L304.35 1030.00 L304.54 1031.51 L304.71 1032.92 L304.86 1034.19 L305.00 1035.30 L305.13 1036.22 L305.27 1036.91 L305.41 1037.35 L305.57 1037.50 L305.72 1037.33 L305.87 1036.86 L306.02 1036.12 L306.17 1035.16 L306.34 1034.02 L306.52 1032.75 L306.72 1031.40 L306.96 1030.00 L307.22 1028.53 L307.49 1026.93 L307.79 1025.21 L308.10 1023.38 L308.44 1021.44 L308.79 1019.39 L309.17 1017.24 L309.57 1015.00 L309.99 1013.00 L310.43 1011.36 L310.90 1009.82 L311.39 1008.08 L311.90 1005.85 L312.41 1002.86 L312.94 998.80 L313.48 993.40 L314.00 986.55 L314.51 978.48 L315.03 969.40 L315.55 959.52 L316.12 949.06 L316.73 938.23 L317.41 927.24 L318.17 916.30 L319.07 904.75 L320.11 892.11 L321.25 878.85 L322.42 865.44 L323.58 852.38 L324.67 840.13 L325.64 829.18 L326.43 820.00 L327.05 812.72 L327.53 806.94 L327.91 802.35 L328.21 798.63 L328.47 795.47 L328.71 792.55 L328.98 789.57 L329.30 786.20 L329.67 782.59 L330.04 779.10 L330.41 775.74 L330.78 772.52 L331.15 769.46 L331.51 766.58 L331.85 763.89 L332.17 761.40 L332.48 759.15 L332.76 757.14 L333.03 755.34 L333.29 753.71 L333.54 752.20 L333.80 750.79 L334.07 749.44 L334.35 748.10 L334.64 746.80 L334.93 745.59 L335.23 744.45 L335.54 743.39 L335.85 742.42 L336.16 741.53 L336.47 740.72 L336.78 740.00 L337.10 739.35 L337.42 738.77 L337.74 738.27 L338.07 737.86 L338.39 737.53 L338.72 737.31 L339.06 737.20 L339.39 737.20 L339.73 737.33 L340.08 737.59 L340.43 737.96 L340.78 738.43 L341.14 738.98 L341.49 739.60 L341.83 740.28 L342.17 741.00 L342.50 741.79 L342.82 742.66 L343.14 743.61 L343.45 744.62 L343.77 745.68 L344.09 746.77 L344.43 747.88 L344.78 749.00 L345.15 750.14 L345.53 751.32 L345.93 752.53 L346.33 753.77 L346.73 755.04 L347.15 756.32 L347.57 757.61 L348.00 758.90 L348.44 760.20 L348.88 761.50 L349.34 762.81 L349.80 764.14 L350.27 765.49 L350.74 766.87 L351.20 768.27 L351.65 769.70 L352.10 771.19 L352.53 772.74 L352.96 774.33 L353.39 775.94 L353.83 777.54 L354.27 779.12 L354.73 780.64 L355.22 782.10 L355.72 783.53 L356.25 784.99 L356.79 786.42 L357.35 787.82 L357.91 789.14 L358.47 790.34 L359.02 791.41 L359.57 792.30 L360.10 793.02 L360.63 793.60 L361.17 794.06 L361.70 794.39 L362.23 794.63 L362.76 794.76 L363.29 794.82 L363.83 794.80 L364.36 794.72 L364.89 794.58 L365.42 794.37 L365.95 794.05 L366.49 793.62 L367.04 793.07 L367.60 792.36 L368.17 791.50 L368.78 790.42 L369.40 789.12 L370.04 787.65 L370.70 786.07 L371.35 784.42 L371.99 782.76 L372.62 781.13 L373.22 779.60 L373.80 778.14 L374.37 776.68 L374.93 775.23 L375.48 773.78 L376.02 772.34 L376.55 770.89 L377.06 769.45 L377.57 768.00 L378.04 766.54 L378.49 765.08 L378.93 763.61 L379.35 762.14 L379.77 760.68 L380.20 759.24 L380.65 757.81 L381.13 756.40 L381.64 754.99 L382.19 753.55 L382.75 752.11 L383.33 750.69 L383.90 749.32 L384.45 748.02 L384.98 746.80 L385.48 745.70 L385.93 744.72 L386.36 743.83 L386.77 743.03 L387.16 742.31 L387.54 741.63 L387.92 741.00 L388.30 740.39 L388.70 739.80 L389.09 739.23 L389.47 738.70 L389.84 738.21 L390.22 737.75 L390.60 737.32 L391.01 736.93 L391.44 736.55 L391.91 736.20 L392.42 735.87 L392.97 735.57 L393.55 735.29 L394.15 735.04 L394.75 734.82 L395.36 734.62 L395.95 734.45 L396.52 734.30 L397.07 734.17 L397.59 734.05 L398.09 733.95 L398.60 733.87 L399.12 733.84 L399.67 733.84 L400.24 733.89 L400.87 734.00 L401.55 734.17 L402.29 734.41 L403.06 734.71 L403.86 735.04 L404.66 735.40 L405.46 735.77 L406.23 736.14 L406.96 736.50 L407.66 736.87 L408.34 737.27 L409.01 737.68 L409.67 738.10 L410.32 738.51 L410.95 738.91 L411.57 739.28 L412.17 739.60 L412.76 739.89 L413.34 740.16 L413.91 740.40 L414.46 740.62 L414.99 740.83 L415.52 741.01 L416.03 741.16 L416.52 741.30 L417.00 741.41 L417.44 741.50 L417.87 741.57 L418.29 741.62 L418.70 741.64 L419.12 741.65 L419.55 741.63 L420.00 741.60 L420.46 741.55 L420.91 741.50 L421.36 741.43 L421.82 741.34 L422.30 741.22 L422.80 741.06 L423.34 740.86 L423.91 740.60 L424.53 740.28 L425.19 739.89 L425.89 739.46 L426.60 738.99 L427.34 738.50 L428.08 738.00 L428.83 737.49 L429.57 737.00 L430.31 736.50 L431.06 735.99 L431.82 735.46 L432.58 734.92 L433.35 734.39 L434.12 733.87 L434.89 733.37 L435.65 732.90 L436.42 732.46 L437.19 732.02 L437.97 731.61 L438.75 731.21 L439.52 730.82 L440.28 730.46 L441.02 730.12 L441.74 729.80 L442.43 729.51 L443.10 729.24 L443.76 728.99 L444.40 728.77 L445.04 728.56 L445.67 728.36 L446.31 728.18 L446.96 728.00 L447.54 727.84 L448.02 727.69 L448.45 727.57 L448.91 727.45 L449.45 727.34 L450.14 727.23 L451.02 727.12 L452.17 727.00 L453.61 726.88 L455.27 726.76 L457.13 726.64 L459.13 726.52 L461.24 726.40 L463.42 726.28 L465.63 726.14 L467.83 726.00 L470.09 725.85 L472.51 725.69 L475.01 725.52 L477.55 725.35 L480.08 725.17 L482.52 724.99 L484.83 724.80 L486.96 724.60 L488.88 724.39 L490.67 724.16 L492.33 723.92 L493.91 723.67 L495.44 723.43 L496.94 723.20 L498.45 722.99 L500.00 722.80 L501.55 722.63 L503.06 722.47 L504.55 722.33 L506.03 722.19 L507.52 722.07 L509.03 721.97 L510.57 721.88 L512.17 721.80 L513.82 721.74 L515.51 721.69 L517.23 721.66 L518.97 721.64 L520.73 721.64 L522.51 721.65 L524.29 721.67 L526.09 721.70 L527.70 721.73 L529.06 721.76 L530.32 721.79 L531.65 721.84 L533.21 721.92 L535.15 722.03 L537.66 722.19 L540.87 722.40 L544.89 722.68 L549.59 723.03 L554.84 723.42 L560.48 723.85 L566.37 724.30 L572.37 724.75 L578.32 725.19 L584.09 725.60 L589.59 725.99 L594.95 726.37 L600.27 726.75 L605.70 727.13 L611.34 727.51 L617.34 727.89 L623.80 728.29 L630.87 728.70 L638.64 729.14 L647.04 729.60 L655.92 730.08 L665.15 730.56 L674.58 731.04 L684.06 731.49 L693.45 731.92 L702.61 732.30 L711.85 732.64 L721.46 732.96 L731.21 733.25 L740.90 733.52 L750.31 733.77 L759.24 733.99 L767.46 734.21 L774.78 734.40 L781.30 734.58 L787.28 734.73 L792.69 734.86 L797.55 734.98 L801.85 735.08 L805.58 735.17 L808.73 735.24 L811.30 735.30" stroke="#0000ff" stroke-width="7.0" stroke-dasharray="5.94 5.94" stroke-dashoffset="0.73"/>
</g>
<line x1="150.30" y1="738.5" x2="324.2" y2="738.5" stroke="#0000ff" stroke-width="7" stroke-dasharray="6.83 6.83"/>
</g>
<text transform="translate(150.30 1145.50) scale(1.065 1)" font-family='"Liberation Sans", sans-serif' font-size="31" font-weight="bold" text-anchor="middle" fill="#1f1f1f" stroke="#1f1f1f" stroke-width="0.45">9</text>
<text transform="translate(324.23 1145.50) scale(1.065 1)" font-family='"Liberation Sans", sans-serif' font-size="31" font-weight="bold" text-anchor="middle" fill="#1f1f1f" stroke="#1f1f1f" stroke-width="0.45">10</text>
<text transform="translate(498.17 1145.50) scale(1.065 1)" font-family='"Liberation Sans", sans-serif' font-size="31" font-weight="bold" text-anchor="middle" fill="#1f1f1f" stroke="#1f1f1f" stroke-width="0.45">11</text>
<text transform="translate(672.10 1145.50) scale(1.065 1)" font-family='"Liberation Sans", sans-serif' font-size="31" font-weight="bold" text-anchor="middle" fill="#1f1f1f" stroke="#1f1f1f" stroke-width="0.45">12</text>
<text transform="translate(846.03 1145.50) scale(1.065 1)" font-family='"Liberation Sans", sans-serif' font-size="31" font-weight="bold" text-anchor="middle" fill="#1f1f1f" stroke="#1f1f1f" stroke-width="0.45">13</text>
<text transform="translate(136.70 1115.50) scale(1.065 1)" font-family='"Liberation Sans", sans-serif' font-size="31" font-weight="bold" text-anchor="end" fill="#1f1f1f" stroke="#1f1f1f" stroke-width="0.45">59.9</text>
<text transform="translate(136.70 1042.60) scale(1.065 1)" font-family='"Liberation Sans", sans-serif' font-size="31" font-weight="bold" text-anchor="end" fill="#1f1f1f" stroke="#1f1f1f" stroke-width="0.45">59.92</text>
<text transform="translate(136.70 969.70) scale(1.065 1)" font-family='"Liberation Sans", sans-serif' font-size="31" font-weight="bold" text-anchor="end" fill="#1f1f1f" stroke="#1f1f1f" stroke-width="0.45">59.94</text>
<text transform="translate(136.70 896.80) scale(1.065 1)" font-family='"Liberation Sans", sans-serif' font-size="31" font-weight="bold" text-anchor="end" fill="#1f1f1f" stroke="#1f1f1f" stroke-width="0.45">59.96</text>
<text transform="translate(136.70 823.90) scale(1.065 1)" font-family='"Liberation Sans", sans-serif' font-size="31" font-weight="bold" text-anchor="end" fill="#1f1f1f" stroke="#1f1f1f" stroke-width="0.45">59.98</text>
<text transform="translate(136.70 751.00) scale(1.065 1)" font-family='"Liberation Sans", sans-serif' font-size="31" font-weight="bold" text-anchor="end" fill="#1f1f1f" stroke="#1f1f1f" stroke-width="0.45">60</text>
<text transform="translate(136.70 678.10) scale(1.065 1)" font-family='"Liberation Sans", sans-serif' font-size="31" font-weight="bold" text-anchor="end" fill="#1f1f1f" stroke="#1f1f1f" stroke-width="0.45">60.02</text>
<text transform="translate(539.70 647.90) scale(1.118 1)" font-family='"Liberation Serif", serif' font-size="39.5" font-weight="bold" text-anchor="middle" fill="#000" word-spacing="3" stroke="#000" stroke-width="0.45">CASE-1 AREA-1</text>
<text transform="translate(542.20 1186.90) scale(1.11 1)" font-family='"Liberation Serif", serif' font-size="33.8" font-weight="bold" text-anchor="middle" fill="#111" stroke="#111" stroke-width="0.45">Time</text>
<text transform="translate(38.10 884.60) rotate(-90) scale(1 1.16)" font-family='"Liberation Serif", serif' font-size="33.4" font-weight="bold" text-anchor="middle" fill="#111" stroke="#111" stroke-width="0.45">Frequency</text>
<text transform="translate(29.40 1168.60) scale(1.09 1)" font-family='"Liberation Serif", serif' font-size="32" font-weight="normal" text-anchor="middle" fill="#111">(b)</text>
<rect x="487" y="851.3" width="202.8" height="101.2" fill="#fff" stroke="#111" stroke-width="1.3"/>
<line x1="493.2" y1="877.9" x2="561.2" y2="877.9" stroke="#ff0000" stroke-width="7.2"/>
<line x1="493.2" y1="925.6" x2="561.2" y2="925.6" stroke="#0000ff" stroke-width="7.2" stroke-dasharray="6.9 6.75"/>
<text transform="translate(567.00 891.90) scale(1.1 1)" font-family='"Liberation Serif", serif' font-size="40" font-weight="bold" text-anchor="start" fill="#000" stroke="#000" stroke-width="0.45">case a</text>
<text transform="translate(567.00 940.10) scale(1.105 1)" font-family='"Liberation Serif", serif' font-size="40" font-weight="bold" text-anchor="start" fill="#000" stroke="#000" stroke-width="0.45">case b</text>
</svg></body></html>
